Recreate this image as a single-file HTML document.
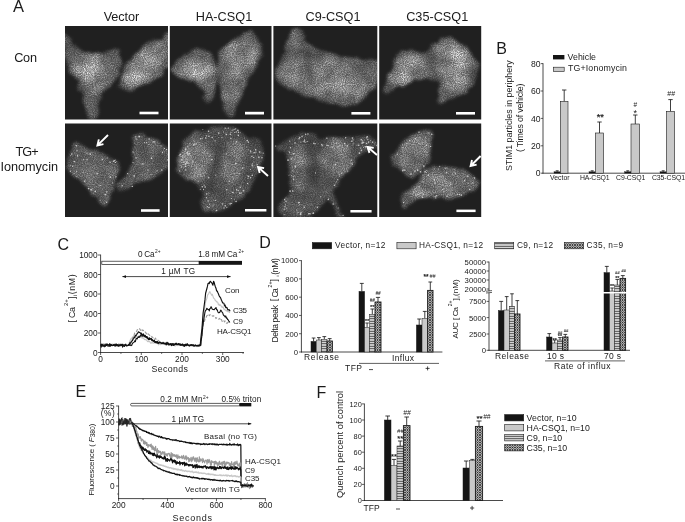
<!DOCTYPE html>
<html><head><meta charset="utf-8"><title>Figure</title>
<style>html,body{margin:0;padding:0;background:#fff}svg{display:block}text{font-family:"Liberation Sans", Arial, sans-serif}</style>
</head><body>
<svg width="685" height="522" viewBox="0 0 685 522">
<defs>
<filter id="cellf" x="0" y="0" width="100%" height="100%" color-interpolation-filters="sRGB">
  <feTurbulence type="fractalNoise" baseFrequency="0.11" numOctaves="3" seed="11" result="dn"/>
  <feDisplacementMap in="SourceGraphic" in2="dn" scale="6.5" xChannelSelector="R" yChannelSelector="G" result="disp"/>
  <feGaussianBlur in="disp" stdDeviation="1.4" result="b0"/>
  <feTurbulence type="fractalNoise" baseFrequency="0.06" numOctaves="2" seed="23" result="lf"/>
  <feColorMatrix in="lf" type="matrix" values="1.4 0 0 0 -0.2  1.4 0 0 0 -0.2  1.4 0 0 0 -0.2  0 0 0 0 1" result="lf2"/>
  <feComposite in="b0" in2="lf2" operator="arithmetic" k1="0.7" k2="0.65" k3="0" k4="0" result="b"/>
  <feTurbulence type="fractalNoise" baseFrequency="0.9" numOctaves="2" seed="5" result="n"/>
  <feColorMatrix in="n" type="matrix" values="1.5 0 0 0 -0.25  1.5 0 0 0 -0.25  1.5 0 0 0 -0.25  0 0 0 0 1" result="n1"/>
  <feComponentTransfer in="n1" result="n2"><feFuncR type="gamma" exponent="1.5" amplitude="1.15"/><feFuncG type="gamma" exponent="1.5" amplitude="1.15"/><feFuncB type="gamma" exponent="1.5" amplitude="1.15"/></feComponentTransfer>
  <feComposite in="b" in2="n2" operator="arithmetic" k1="0.8" k2="0.55" k3="0" k4="0.125" result="c"/>
  <feGaussianBlur in="c" stdDeviation="0.4"/>
</filter>
<filter id="soft" x="-20%" y="-20%" width="140%" height="140%"><feGaussianBlur stdDeviation="2.2"/></filter>
<filter id="dotb" x="-5%" y="-5%" width="110%" height="110%"><feGaussianBlur stdDeviation="0.35"/></filter>
<pattern id="hs" width="4" height="2.5" patternUnits="userSpaceOnUse">
  <rect width="4" height="2.5" fill="#f2f2f2"/>
  <rect y="0.7" width="4" height="1.1" fill="#3a3a3a"/>
</pattern>
<pattern id="xh" width="2.5" height="2.5" patternUnits="userSpaceOnUse">
  <rect width="2.5" height="2.5" fill="#e6e6e6"/>
  <path d="M-1,-1L3.5,3.5M3.5,-1L-1,3.5" stroke="#141414" stroke-width="0.74"/>
</pattern>
<marker id="ah" viewBox="0 0 10 10" refX="9" refY="5" markerWidth="5" markerHeight="5" orient="auto-start-reverse"><path d="M0,1.5L10,5L0,8.5Z" fill="#111"/></marker>
</defs>

<rect width="685" height="522" fill="#fff"/>
<clipPath id="cp00"><rect x="65" y="26" width="103" height="93.5"/></clipPath>
<g clip-path="url(#cp00)"><g filter="url(#cellf)">
<rect x="57" y="18" width="119" height="109.5" fill="#000"/>
<path d="M64,32C65.2,30.33 69.33,41 72,44C74.67,47 76.67,48.5 80,50C83.33,51.5 88,52.67 92,53C96,53.33 100,52.5 104,52C108,51.5 113.17,49 116,50C118.83,51 120.33,55 121,58C121.67,61 120.83,64.67 120,68C119.17,71.33 118,75 116,78C114,81 110.33,83.33 108,86C105.67,88.67 103.5,91 102,94C100.5,97 99.83,100.33 99,104C98.17,107.67 98,113.33 97,116C96,118.67 94.33,119.5 93,120C91.67,120.5 90.17,121 89,119C87.83,117 87,111.5 86,108C85,104.5 84.33,102 83,98C81.67,94 79.83,87.67 78,84C76.17,80.33 73.67,79 72,76C70.33,73 69.2,69.67 68,66C66.8,62.33 65.47,59.67 64.8,54C64.13,48.33 62.8,33.67 64,32Z" fill="#3d3d3d"/>
<path d="M170,36C168,32 161.67,39 158,40C154.33,41 151,40.33 148,42C145,43.67 143,47.33 140,50C137,52.67 132.67,55 130,58C127.33,61 125.5,64.67 124,68C122.5,71.33 121.83,75 121,78C120.17,81 118.17,83.93 119,86C119.83,88.07 123.17,89.9 126,90.4C128.83,90.9 132.33,90.23 136,89C139.67,87.77 144.33,85 148,83C151.67,81 155.17,79 158,77C160.83,75 163,73.17 165,71C167,68.83 169.17,69.83 170,64C170.83,58.17 172,40 170,36Z" fill="#494949"/>
<clipPath id="cc00"><path d="M64,32C65.2,30.33 69.33,41 72,44C74.67,47 76.67,48.5 80,50C83.33,51.5 88,52.67 92,53C96,53.33 100,52.5 104,52C108,51.5 113.17,49 116,50C118.83,51 120.33,55 121,58C121.67,61 120.83,64.67 120,68C119.17,71.33 118,75 116,78C114,81 110.33,83.33 108,86C105.67,88.67 103.5,91 102,94C100.5,97 99.83,100.33 99,104C98.17,107.67 98,113.33 97,116C96,118.67 94.33,119.5 93,120C91.67,120.5 90.17,121 89,119C87.83,117 87,111.5 86,108C85,104.5 84.33,102 83,98C81.67,94 79.83,87.67 78,84C76.17,80.33 73.67,79 72,76C70.33,73 69.2,69.67 68,66C66.8,62.33 65.47,59.67 64.8,54C64.13,48.33 62.8,33.67 64,32Z"/><path d="M170,36C168,32 161.67,39 158,40C154.33,41 151,40.33 148,42C145,43.67 143,47.33 140,50C137,52.67 132.67,55 130,58C127.33,61 125.5,64.67 124,68C122.5,71.33 121.83,75 121,78C120.17,81 118.17,83.93 119,86C119.83,88.07 123.17,89.9 126,90.4C128.83,90.9 132.33,90.23 136,89C139.67,87.77 144.33,85 148,83C151.67,81 155.17,79 158,77C160.83,75 163,73.17 165,71C167,68.83 169.17,69.83 170,64C170.83,58.17 172,40 170,36Z"/></clipPath>
<g clip-path="url(#cc00)"><g filter="url(#soft)">
<ellipse cx="93" cy="69" rx="23" ry="16" transform="rotate(15 93 69)" fill="#6b6b6b"/>
<ellipse cx="90" cy="68" rx="14" ry="10" transform="rotate(10 90 68)" fill="#7b7b7b"/>
<ellipse cx="96" cy="86" rx="8" ry="9" transform="rotate(0 96 86)" fill="#5c5c5c"/>
<ellipse cx="146" cy="63" rx="19" ry="13" transform="rotate(-38 146 63)" fill="#737373"/>
<ellipse cx="134" cy="78" rx="11" ry="8" transform="rotate(-25 134 78)" fill="#868686"/>
<ellipse cx="158" cy="52" rx="9" ry="9" transform="rotate(0 158 52)" fill="#6b6b6b"/>
</g></g>
</g>
</g>
<rect x="139.5" y="111.7" width="19" height="2.6" fill="#fff"/>
<clipPath id="cp01"><rect x="169.8" y="26" width="101.7" height="93.5"/></clipPath>
<g clip-path="url(#cp01)"><g filter="url(#cellf)">
<rect x="161.8" y="18" width="117.7" height="109.5" fill="#000"/>
<path d="M172,69C172.33,66.33 176.17,62.83 179,60C181.83,57.17 185.33,53.67 189,52C192.67,50.33 197.17,49.5 201,50C204.83,50.5 209.33,52.33 212,55C214.67,57.67 216,62.17 217,66C218,69.83 218.33,74.33 218,78C217.67,81.67 216,84.67 215,88C214,91.33 213,95.5 212,98C211,100.5 210.17,102.67 209,103C207.83,103.33 205.83,101.83 205,100C204.17,98.17 205.17,94.67 204,92C202.83,89.33 200.83,86 198,84C195.17,82 190.5,81.33 187,80C183.5,78.67 179.5,77.83 177,76C174.5,74.17 171.67,71.67 172,69Z" fill="#444444"/>
<path d="M219,53C221.17,48.33 227,45.17 231,42C235,38.83 239.33,35.83 243,34C246.67,32.17 250.67,30 253,31C255.33,32 255.33,36.83 257,40C258.67,43.17 262.67,46.33 263,50C263.33,53.67 261,57.67 259,62C257,66.33 253.67,71.33 251,76C248.33,80.67 245.33,85.33 243,90C240.67,94.67 238.83,99.33 237,104C235.17,108.67 233.67,116.33 232,118C230.33,119.67 228.5,117 227,114C225.5,111 224.17,104.67 223,100C221.83,95.33 220.83,91 220,86C219.17,81 218.17,75.5 218,70C217.83,64.5 216.83,57.67 219,53Z" fill="#464646"/>
<clipPath id="cc01"><path d="M172,69C172.33,66.33 176.17,62.83 179,60C181.83,57.17 185.33,53.67 189,52C192.67,50.33 197.17,49.5 201,50C204.83,50.5 209.33,52.33 212,55C214.67,57.67 216,62.17 217,66C218,69.83 218.33,74.33 218,78C217.67,81.67 216,84.67 215,88C214,91.33 213,95.5 212,98C211,100.5 210.17,102.67 209,103C207.83,103.33 205.83,101.83 205,100C204.17,98.17 205.17,94.67 204,92C202.83,89.33 200.83,86 198,84C195.17,82 190.5,81.33 187,80C183.5,78.67 179.5,77.83 177,76C174.5,74.17 171.67,71.67 172,69Z"/><path d="M219,53C221.17,48.33 227,45.17 231,42C235,38.83 239.33,35.83 243,34C246.67,32.17 250.67,30 253,31C255.33,32 255.33,36.83 257,40C258.67,43.17 262.67,46.33 263,50C263.33,53.67 261,57.67 259,62C257,66.33 253.67,71.33 251,76C248.33,80.67 245.33,85.33 243,90C240.67,94.67 238.83,99.33 237,104C235.17,108.67 233.67,116.33 232,118C230.33,119.67 228.5,117 227,114C225.5,111 224.17,104.67 223,100C221.83,95.33 220.83,91 220,86C219.17,81 218.17,75.5 218,70C217.83,64.5 216.83,57.67 219,53Z"/></clipPath>
<g clip-path="url(#cc01)"><g filter="url(#soft)">
<ellipse cx="197" cy="68" rx="17" ry="13" transform="rotate(10 197 68)" fill="#6f6f6f"/>
<ellipse cx="200" cy="72" rx="10" ry="10" transform="rotate(0 200 72)" fill="#7d7d7d"/>
<ellipse cx="209" cy="88" rx="4.4" ry="9" transform="rotate(10 209 88)" fill="#5e5e5e"/>
<ellipse cx="240" cy="60" rx="16" ry="21" transform="rotate(25 240 60)" fill="#6b6b6b"/>
<ellipse cx="235" cy="50" rx="9" ry="8" transform="rotate(0 235 50)" fill="#757575"/>
<ellipse cx="231" cy="96" rx="5.6" ry="14" transform="rotate(8 231 96)" fill="#5c5c5c"/>
</g></g>
</g>
</g>
<rect x="245" y="111.8" width="19" height="2.7" fill="#fff"/>
<clipPath id="cp02"><rect x="273.4" y="26" width="103.9" height="93.5"/></clipPath>
<g clip-path="url(#cp02)"><g filter="url(#cellf)">
<rect x="265.4" y="18" width="119.9" height="109.5" fill="#000"/>
<path d="M294,28C295.83,27.33 299.17,28 301,30C302.83,32 302.5,37 305,40C307.5,43 311.17,45.67 316,48C320.83,50.33 328,52.33 334,54C340,55.67 346,57 352,58C358,59 365.67,59.17 370,60C374.33,60.83 376.67,59.67 378,63C379.33,66.33 379,75.5 378,80C377,84.5 374.67,86.67 372,90C369.33,93.33 366,97.33 362,100C358,102.67 352.67,105.33 348,106C343.33,106.67 339,105 334,104C329,103 323.33,101.67 318,100C312.67,98.33 307,96 302,94C297,92 292,90.33 288,88C284,85.67 280.17,82.67 278,80C275.83,77.33 274.67,75.33 275,72C275.33,68.67 278.17,64.33 280,60C281.83,55.67 284.33,50.33 286,46C287.67,41.67 288.67,37 290,34C291.33,31 292.17,28.67 294,28Z" fill="#414141"/>
<clipPath id="cc02"><path d="M294,28C295.83,27.33 299.17,28 301,30C302.83,32 302.5,37 305,40C307.5,43 311.17,45.67 316,48C320.83,50.33 328,52.33 334,54C340,55.67 346,57 352,58C358,59 365.67,59.17 370,60C374.33,60.83 376.67,59.67 378,63C379.33,66.33 379,75.5 378,80C377,84.5 374.67,86.67 372,90C369.33,93.33 366,97.33 362,100C358,102.67 352.67,105.33 348,106C343.33,106.67 339,105 334,104C329,103 323.33,101.67 318,100C312.67,98.33 307,96 302,94C297,92 292,90.33 288,88C284,85.67 280.17,82.67 278,80C275.83,77.33 274.67,75.33 275,72C275.33,68.67 278.17,64.33 280,60C281.83,55.67 284.33,50.33 286,46C287.67,41.67 288.67,37 290,34C291.33,31 292.17,28.67 294,28Z"/></clipPath>
<g clip-path="url(#cc02)"><g filter="url(#soft)">
<ellipse cx="326" cy="78" rx="43" ry="19" transform="rotate(12 326 78)" fill="#606060"/>
<ellipse cx="342" cy="82" rx="22" ry="14" transform="rotate(10 342 82)" fill="#737373"/>
<ellipse cx="292" cy="70" rx="11" ry="14" transform="rotate(0 292 70)" fill="#5e5e5e"/>
<ellipse cx="296" cy="42" rx="5" ry="11" transform="rotate(-10 296 42)" fill="#444444"/>
<ellipse cx="306.6" cy="60" rx="2.6" ry="21" transform="rotate(-8 306.6 60)" fill="#303030"/>
</g></g>
</g>
</g>
<rect x="351.4" y="112" width="19" height="2.6" fill="#fff"/>
<clipPath id="cp03"><rect x="379.2" y="26" width="102" height="93.5"/></clipPath>
<g clip-path="url(#cp03)"><g filter="url(#cellf)">
<rect x="371.2" y="18" width="118" height="109.5" fill="#000"/>
<path d="M383,89C383.33,86.4 386.17,82.17 388,78C389.83,73.83 392.33,68.17 394,64C395.67,59.83 396,55.33 398,53C400,50.67 402.67,50.17 406,50C409.33,49.83 414.33,52 418,52C421.67,52 425,51.67 428,50C431,48.33 433.33,44 436,42C438.67,40 441,38.33 444,38C447,37.67 450.67,38.67 454,40C457.33,41.33 460.83,43.33 464,46C467.17,48.67 470.67,52.67 473,56C475.33,59.33 477.5,62.33 478,66C478.5,69.67 477.33,74.33 476,78C474.67,81.67 472.67,85 470,88C467.33,91 463.67,94 460,96C456.33,98 451.67,99 448,100C444.33,101 439.5,103.33 438,102C436.5,100.67 438.67,95 439,92C439.33,89 440.83,86.07 440,84C439.17,81.93 436.67,80.43 434,79.6C431.33,78.77 427.33,78.7 424,79C420.67,79.3 417.33,80.43 414,81.4C410.67,82.37 407.33,83.5 404,84.8C400.67,86.1 397,87.73 394,89.2C391,90.67 387.83,93.63 386,93.6C384.17,93.57 382.67,91.6 383,89Z" fill="#414141"/>
<clipPath id="cc03"><path d="M383,89C383.33,86.4 386.17,82.17 388,78C389.83,73.83 392.33,68.17 394,64C395.67,59.83 396,55.33 398,53C400,50.67 402.67,50.17 406,50C409.33,49.83 414.33,52 418,52C421.67,52 425,51.67 428,50C431,48.33 433.33,44 436,42C438.67,40 441,38.33 444,38C447,37.67 450.67,38.67 454,40C457.33,41.33 460.83,43.33 464,46C467.17,48.67 470.67,52.67 473,56C475.33,59.33 477.5,62.33 478,66C478.5,69.67 477.33,74.33 476,78C474.67,81.67 472.67,85 470,88C467.33,91 463.67,94 460,96C456.33,98 451.67,99 448,100C444.33,101 439.5,103.33 438,102C436.5,100.67 438.67,95 439,92C439.33,89 440.83,86.07 440,84C439.17,81.93 436.67,80.43 434,79.6C431.33,78.77 427.33,78.7 424,79C420.67,79.3 417.33,80.43 414,81.4C410.67,82.37 407.33,83.5 404,84.8C400.67,86.1 397,87.73 394,89.2C391,90.67 387.83,93.63 386,93.6C384.17,93.57 382.67,91.6 383,89Z"/></clipPath>
<g clip-path="url(#cc03)"><g filter="url(#soft)">
<ellipse cx="408" cy="72" rx="22" ry="16" transform="rotate(-25 408 72)" fill="#696969"/>
<ellipse cx="400" cy="80" rx="12" ry="11" transform="rotate(-20 400 80)" fill="#737373"/>
<ellipse cx="454" cy="66" rx="17" ry="25" transform="rotate(-5 454 66)" fill="#686868"/>
<ellipse cx="458" cy="68" rx="7" ry="19" transform="rotate(-12 458 68)" fill="#8c8c8c"/>
<ellipse cx="444" cy="50" rx="9" ry="8" transform="rotate(0 444 50)" fill="#6f6f6f"/>
</g></g>
</g>
</g>
<rect x="456" y="112" width="19" height="2.6" fill="#fff"/>
<clipPath id="cp10"><rect x="65" y="123.6" width="103" height="93.4"/></clipPath>
<g clip-path="url(#cp10)"><g filter="url(#cellf)">
<rect x="57" y="115.6" width="119" height="109.4" fill="#000"/>
<path d="M74,142C76.33,140.67 80.33,144.5 84,146C87.67,147.5 92,149.17 96,151C100,152.83 104.33,155.33 108,157C111.67,158.67 116,159.33 118,161C120,162.67 120.33,164.17 120,167C119.67,169.83 117.17,174.17 116,178C114.83,181.83 114.33,186 113,190C111.67,194 109.5,199.5 108,202C106.5,204.5 106,205.67 104,205C102,204.33 98.67,200.5 96,198C93.33,195.5 90.67,193 88,190C85.33,187 83,183 80,180C77,177 72.17,174.67 70,172C67.83,169.33 67,167 67,164C67,161 68.83,157.67 70,154C71.17,150.33 71.67,143.33 74,142Z" fill="#434343"/>
<path d="M136,134C138.17,132.67 142.33,134.67 146,136C149.67,137.33 154.33,139.67 158,142C161.67,144.33 166.07,146 168,150C169.93,154 170.6,162.33 169.6,166C168.6,169.67 164.93,170 162,172C159.07,174 155.67,176.33 152,178C148.33,179.67 143.67,180.33 140,182C136.33,183.67 133.33,186.5 130,188C126.67,189.5 122.17,191.33 120,191C117.83,190.67 116.67,188.17 117,186C117.33,183.83 119.83,180.67 122,178C124.17,175.33 128.33,173.33 130,170C131.67,166.67 131.5,162.33 132,158C132.5,153.67 132.33,148 133,144C133.67,140 133.83,135.33 136,134Z" fill="#414141"/>
<clipPath id="cc10"><path d="M74,142C76.33,140.67 80.33,144.5 84,146C87.67,147.5 92,149.17 96,151C100,152.83 104.33,155.33 108,157C111.67,158.67 116,159.33 118,161C120,162.67 120.33,164.17 120,167C119.67,169.83 117.17,174.17 116,178C114.83,181.83 114.33,186 113,190C111.67,194 109.5,199.5 108,202C106.5,204.5 106,205.67 104,205C102,204.33 98.67,200.5 96,198C93.33,195.5 90.67,193 88,190C85.33,187 83,183 80,180C77,177 72.17,174.67 70,172C67.83,169.33 67,167 67,164C67,161 68.83,157.67 70,154C71.17,150.33 71.67,143.33 74,142Z"/><path d="M136,134C138.17,132.67 142.33,134.67 146,136C149.67,137.33 154.33,139.67 158,142C161.67,144.33 166.07,146 168,150C169.93,154 170.6,162.33 169.6,166C168.6,169.67 164.93,170 162,172C159.07,174 155.67,176.33 152,178C148.33,179.67 143.67,180.33 140,182C136.33,183.67 133.33,186.5 130,188C126.67,189.5 122.17,191.33 120,191C117.83,190.67 116.67,188.17 117,186C117.33,183.83 119.83,180.67 122,178C124.17,175.33 128.33,173.33 130,170C131.67,166.67 131.5,162.33 132,158C132.5,153.67 132.33,148 133,144C133.67,140 133.83,135.33 136,134Z"/></clipPath>
<g clip-path="url(#cc10)"><g filter="url(#soft)">
<ellipse cx="93" cy="172" rx="17" ry="17" transform="rotate(30 93 172)" fill="#4b4b4b"/>
<ellipse cx="82" cy="158" rx="8" ry="8" transform="rotate(0 82 158)" fill="#4f4f4f"/>
<ellipse cx="150" cy="158" rx="13" ry="16" transform="rotate(20 150 158)" fill="#494949"/>
<ellipse cx="130" cy="182" rx="8" ry="5" transform="rotate(-25 130 182)" fill="#484848"/>
</g></g>
</g>
<g fill="#e8e8e8" opacity="0.8" filter="url(#dotb)"><circle cx="92.39" cy="188.79" r="0.47"/><circle cx="106.6" cy="202.19" r="0.71"/><circle cx="166.6" cy="149.73" r="0.61"/><circle cx="95.27" cy="191.38" r="0.81"/><circle cx="110.1" cy="162.28" r="0.7"/><circle cx="134.08" cy="175.92" r="0.82"/><circle cx="76.64" cy="171.7" r="0.63"/><circle cx="136.7" cy="139.07" r="0.61"/><circle cx="115.94" cy="176.72" r="0.69"/><circle cx="151.52" cy="158.16" r="0.84"/><circle cx="77.54" cy="155.91" r="0.79"/><circle cx="105.27" cy="194.62" r="0.83"/><circle cx="100.13" cy="200.3" r="0.48"/><circle cx="84.61" cy="181.23" r="0.75"/><circle cx="142.84" cy="164.02" r="0.82"/><circle cx="134.27" cy="142.94" r="0.47"/><circle cx="100.11" cy="185.46" r="0.61"/><circle cx="72.73" cy="166.37" r="0.72"/><circle cx="167.25" cy="159.82" r="0.61"/><circle cx="162.5" cy="152.42" r="0.71"/><circle cx="83.68" cy="159.72" r="0.63"/><circle cx="115.48" cy="162.42" r="0.62"/><circle cx="151.07" cy="173.89" r="0.5"/><circle cx="133.04" cy="151.9" r="0.6"/><circle cx="139.45" cy="136.64" r="0.79"/><circle cx="76.77" cy="176.24" r="0.57"/><circle cx="136.16" cy="157.9" r="0.71"/><circle cx="110.36" cy="177.15" r="0.82"/><circle cx="76.45" cy="145.75" r="0.73"/><circle cx="71.75" cy="154.03" r="0.74"/><circle cx="70.76" cy="165.19" r="0.54"/><circle cx="115.33" cy="159.97" r="0.52"/><circle cx="127.51" cy="173.56" r="0.63"/><circle cx="112.64" cy="182.77" r="0.62"/><circle cx="122.23" cy="185.82" r="0.72"/><circle cx="74.3" cy="161.59" r="0.79"/><circle cx="87.43" cy="173.8" r="0.51"/><circle cx="91.03" cy="189.67" r="0.85"/><circle cx="164.33" cy="148.44" r="0.59"/><circle cx="148.76" cy="144.42" r="0.53"/><circle cx="146.47" cy="142.71" r="0.59"/><circle cx="160.98" cy="145.96" r="0.52"/><circle cx="87.11" cy="159.49" r="0.64"/><circle cx="74.13" cy="173.24" r="0.54"/><circle cx="70.36" cy="171.28" r="0.67"/><circle cx="107.23" cy="158.02" r="0.58"/><circle cx="133.07" cy="162.61" r="0.58"/><circle cx="161.8" cy="170.01" r="0.78"/><circle cx="138.2" cy="136.81" r="0.51"/><circle cx="90.36" cy="154.01" r="0.84"/><circle cx="88.61" cy="188.58" r="0.82"/><circle cx="104.27" cy="202.99" r="0.49"/><circle cx="77.06" cy="150.71" r="0.64"/><circle cx="124.15" cy="178.09" r="0.46"/><circle cx="157.06" cy="170.81" r="0.65"/><circle cx="97.15" cy="173.76" r="0.81"/><circle cx="149.11" cy="139.08" r="0.75"/><circle cx="113.54" cy="161.27" r="0.75"/><circle cx="68.85" cy="165" r="0.49"/><circle cx="114.34" cy="160.81" r="0.74"/><circle cx="135.9" cy="136.83" r="0.68"/><circle cx="153.95" cy="141.85" r="0.84"/><circle cx="132.27" cy="186.39" r="0.71"/><circle cx="102.36" cy="159.52" r="0.71"/><circle cx="70.36" cy="155.42" r="0.49"/><circle cx="106.76" cy="191.91" r="0.73"/><circle cx="144.42" cy="142.36" r="0.6"/><circle cx="116.84" cy="161.47" r="0.49"/><circle cx="147.97" cy="169.99" r="0.73"/><circle cx="87.02" cy="153.26" r="0.6"/></g>
</g>
<rect x="141" y="209.2" width="18.6" height="2.6" fill="#fff"/>
<path d="M108,135L97.4,145.4M98.85,139.37L97.4,145.4L103.45,144.06" stroke="#fff" stroke-width="1.9" fill="none" stroke-linecap="butt" stroke-linejoin="miter"/>
<clipPath id="cp11"><rect x="169.8" y="123.6" width="101.7" height="93.4"/></clipPath>
<g clip-path="url(#cp11)"><g filter="url(#cellf)">
<rect x="161.8" y="115.6" width="117.7" height="109.4" fill="#000"/>
<path d="M177,160C177.5,156 179,152 181,148C183,144 185.33,139.17 189,136C192.67,132.83 197.67,130.5 203,129C208.33,127.5 215.67,127.17 221,127C226.33,126.83 231,126.5 235,128C239,129.5 241.33,134 245,136C248.67,138 253.83,137.67 257,140C260.17,142.33 263.33,146 264,150C264.67,154 262.5,159.33 261,164C259.5,168.67 257,173.67 255,178C253,182.33 251.33,186.67 249,190C246.67,193.33 244,195.33 241,198C238,200.67 234.67,203.67 231,206C227.33,208.33 222.67,211 219,212C215.33,213 211.83,213.33 209,212C206.17,210.67 203.33,207.33 202,204C200.67,200.67 202.17,195.67 201,192C199.83,188.33 197.67,184.33 195,182C192.33,179.67 187.83,179.67 185,178C182.17,176.33 179.33,175 178,172C176.67,169 176.5,164 177,160Z" fill="#353535"/>
<clipPath id="cc11"><path d="M177,160C177.5,156 179,152 181,148C183,144 185.33,139.17 189,136C192.67,132.83 197.67,130.5 203,129C208.33,127.5 215.67,127.17 221,127C226.33,126.83 231,126.5 235,128C239,129.5 241.33,134 245,136C248.67,138 253.83,137.67 257,140C260.17,142.33 263.33,146 264,150C264.67,154 262.5,159.33 261,164C259.5,168.67 257,173.67 255,178C253,182.33 251.33,186.67 249,190C246.67,193.33 244,195.33 241,198C238,200.67 234.67,203.67 231,206C227.33,208.33 222.67,211 219,212C215.33,213 211.83,213.33 209,212C206.17,210.67 203.33,207.33 202,204C200.67,200.67 202.17,195.67 201,192C199.83,188.33 197.67,184.33 195,182C192.33,179.67 187.83,179.67 185,178C182.17,176.33 179.33,175 178,172C176.67,169 176.5,164 177,160Z"/></clipPath>
<g clip-path="url(#cc11)"><g filter="url(#soft)">
<ellipse cx="195" cy="161" rx="16.4" ry="20" transform="rotate(10 195 161)" fill="#5e5e5e"/>
<ellipse cx="197" cy="158" rx="11" ry="13" transform="rotate(0 197 158)" fill="#686868"/>
<ellipse cx="233.4" cy="162" rx="11.6" ry="21.6" transform="rotate(5 233.4 162)" fill="#5c5c5c"/>
<ellipse cx="233.4" cy="162" rx="7" ry="16" transform="rotate(5 233.4 162)" fill="#606060"/>
<ellipse cx="216" cy="161" rx="2.6" ry="17" transform="rotate(5 216 161)" fill="#252525"/>
<ellipse cx="221" cy="198" rx="12" ry="8" transform="rotate(-30 221 198)" fill="#3d3d3d"/>
</g></g>
</g>
<g fill="#e8e8e8" opacity="0.8" filter="url(#dotb)"><circle cx="179.64" cy="170.93" r="0.61"/><circle cx="231.4" cy="198.51" r="0.6"/><circle cx="205.23" cy="186.9" r="0.69"/><circle cx="204.17" cy="185.12" r="0.54"/><circle cx="230.18" cy="203.87" r="0.79"/><circle cx="202.29" cy="138.17" r="0.56"/><circle cx="248.22" cy="141.96" r="0.46"/><circle cx="235.84" cy="163.44" r="0.83"/><circle cx="259.73" cy="152.09" r="0.81"/><circle cx="215.66" cy="200.43" r="0.61"/><circle cx="194.2" cy="141.01" r="0.49"/><circle cx="208.54" cy="131.23" r="0.8"/><circle cx="218.76" cy="133.1" r="0.8"/><circle cx="239.13" cy="173.64" r="0.66"/><circle cx="215.18" cy="140.96" r="0.64"/><circle cx="204.89" cy="187.02" r="0.45"/><circle cx="250.83" cy="151.88" r="0.63"/><circle cx="241.2" cy="192.98" r="0.67"/><circle cx="226.8" cy="189.77" r="0.71"/><circle cx="193.75" cy="144.94" r="0.83"/><circle cx="250.5" cy="151.03" r="0.73"/><circle cx="255.69" cy="149.77" r="0.74"/><circle cx="240.24" cy="187.27" r="0.7"/><circle cx="189.93" cy="143.64" r="0.63"/><circle cx="236.07" cy="201.49" r="0.73"/><circle cx="194.84" cy="144.26" r="0.61"/><circle cx="213.08" cy="205.12" r="0.71"/><circle cx="221.9" cy="137.6" r="0.56"/><circle cx="253.71" cy="157.4" r="0.67"/><circle cx="247.18" cy="140.61" r="0.84"/><circle cx="186.69" cy="162.71" r="0.69"/><circle cx="240.24" cy="132.23" r="0.48"/><circle cx="208.7" cy="177.68" r="0.75"/><circle cx="252.16" cy="165.73" r="0.72"/><circle cx="198.2" cy="181.28" r="0.56"/><circle cx="222.45" cy="204.03" r="0.74"/><circle cx="232.15" cy="130.2" r="0.53"/><circle cx="182.75" cy="155.57" r="0.61"/><circle cx="202.86" cy="129.61" r="0.49"/><circle cx="234.64" cy="132.45" r="0.5"/><circle cx="181.43" cy="167.08" r="0.67"/><circle cx="188.08" cy="162.97" r="0.81"/><circle cx="252.31" cy="163.93" r="0.64"/><circle cx="213.8" cy="200.82" r="0.45"/><circle cx="238.55" cy="132.26" r="0.66"/><circle cx="254.03" cy="152.54" r="0.6"/><circle cx="257.17" cy="164.57" r="0.52"/><circle cx="250.57" cy="177.79" r="0.71"/><circle cx="233.26" cy="192.58" r="0.53"/><circle cx="208.13" cy="200.92" r="0.73"/><circle cx="218.69" cy="137.62" r="0.48"/><circle cx="187.65" cy="146.46" r="0.52"/><circle cx="188.32" cy="154.49" r="0.53"/><circle cx="258.89" cy="157.23" r="0.81"/><circle cx="226.45" cy="134.49" r="0.79"/><circle cx="237.92" cy="130.42" r="0.81"/><circle cx="182.57" cy="157.53" r="0.48"/><circle cx="179.25" cy="155.18" r="0.54"/><circle cx="185.7" cy="149.15" r="0.82"/><circle cx="185.61" cy="166.56" r="0.79"/><circle cx="206.58" cy="194.03" r="0.76"/><circle cx="203.55" cy="189.59" r="0.62"/><circle cx="187.17" cy="153.15" r="0.67"/><circle cx="230.9" cy="138.51" r="0.69"/><circle cx="187.09" cy="152.82" r="0.84"/><circle cx="185.74" cy="169.95" r="0.71"/><circle cx="216.53" cy="210.56" r="0.75"/><circle cx="242.73" cy="167.97" r="0.83"/><circle cx="226.2" cy="154.06" r="0.71"/><circle cx="212.17" cy="137.42" r="0.71"/><circle cx="189.37" cy="153.69" r="0.83"/><circle cx="209.63" cy="204.16" r="0.55"/><circle cx="208.96" cy="207.59" r="0.73"/><circle cx="180.31" cy="154.41" r="0.81"/><circle cx="200.7" cy="138.74" r="0.79"/><circle cx="225.24" cy="128.14" r="0.66"/><circle cx="196.16" cy="143.99" r="0.68"/><circle cx="248.24" cy="149.86" r="0.5"/><circle cx="223.57" cy="131.92" r="0.51"/><circle cx="181.68" cy="159.48" r="0.58"/><circle cx="244.55" cy="137.97" r="0.47"/><circle cx="250.49" cy="169.5" r="0.58"/><circle cx="263.28" cy="153.09" r="0.57"/><circle cx="252.25" cy="175.28" r="0.78"/><circle cx="200.27" cy="189.28" r="0.54"/><circle cx="208.92" cy="192.97" r="0.52"/><circle cx="236.51" cy="141.9" r="0.78"/><circle cx="207.4" cy="206.63" r="0.61"/><circle cx="254.31" cy="152.62" r="0.52"/><circle cx="251.9" cy="156.39" r="0.67"/><circle cx="185.46" cy="163.95" r="0.85"/><circle cx="255.89" cy="152.2" r="0.61"/><circle cx="182" cy="160.06" r="0.55"/><circle cx="235.67" cy="128.83" r="0.65"/><circle cx="226.74" cy="207.29" r="0.56"/><circle cx="200.54" cy="175.04" r="0.56"/><circle cx="238.19" cy="190.61" r="0.73"/><circle cx="248.01" cy="178.24" r="0.58"/><circle cx="190.72" cy="155.23" r="0.6"/><circle cx="240.23" cy="144.04" r="0.59"/><circle cx="234.07" cy="129.61" r="0.65"/><circle cx="230.48" cy="134.22" r="0.8"/><circle cx="186.14" cy="158.99" r="0.61"/><circle cx="205.74" cy="137.98" r="0.79"/><circle cx="248.61" cy="176.49" r="0.76"/><circle cx="215.69" cy="175.22" r="0.53"/><circle cx="234.26" cy="199.28" r="0.48"/><circle cx="247.83" cy="175.79" r="0.53"/><circle cx="236.54" cy="189.8" r="0.73"/><circle cx="228.28" cy="128.09" r="0.7"/><circle cx="236.27" cy="131.88" r="0.65"/><circle cx="248.5" cy="142.15" r="0.62"/><circle cx="247.62" cy="183.46" r="0.75"/><circle cx="262.01" cy="157.64" r="0.69"/><circle cx="211.84" cy="159.6" r="0.78"/><circle cx="208.89" cy="136.18" r="0.79"/><circle cx="229.23" cy="181.26" r="0.81"/><circle cx="184.35" cy="161.9" r="0.65"/><circle cx="230.98" cy="132.25" r="0.61"/><circle cx="232.38" cy="192.41" r="0.71"/><circle cx="239.7" cy="193.24" r="0.76"/><circle cx="225.2" cy="205.72" r="0.74"/><circle cx="206.43" cy="197.67" r="0.66"/><circle cx="206.65" cy="135.85" r="0.72"/><circle cx="246.53" cy="146.97" r="0.47"/><circle cx="231.5" cy="203.47" r="0.56"/><circle cx="243.47" cy="190.74" r="0.84"/><circle cx="224.05" cy="207.98" r="0.65"/><circle cx="202.28" cy="186.71" r="0.71"/><circle cx="238.33" cy="135.35" r="0.83"/></g>
</g>
<rect x="245" y="209" width="21.4" height="2.5" fill="#fff"/>
<path d="M268,176L258,167M264.11,168.08L258,167L259.71,172.96" stroke="#fff" stroke-width="1.9" fill="none" stroke-linecap="butt" stroke-linejoin="miter"/>
<clipPath id="cp12"><rect x="273.4" y="123.6" width="103.9" height="93.4"/></clipPath>
<g clip-path="url(#cp12)"><g filter="url(#cellf)">
<rect x="265.4" y="115.6" width="119.9" height="109.4" fill="#000"/>
<path d="M275,145C276.33,144 280.83,143.5 284,142C287.17,140.5 289.67,137.5 294,136C298.33,134.5 306,132.83 310,133C314,133.17 314,136.17 318,137C322,137.83 328.67,138 334,138C339.33,138 344.67,137.33 350,137C355.33,136.67 361.33,135.17 366,136C370.67,136.83 376,140 378,142C380,144 380,146.5 378,148C376,149.5 369.33,149.5 366,151C362.67,152.5 360,154.5 358,157C356,159.5 356.67,162.83 354,166C351.33,169.17 345,172.67 342,176C339,179.33 337.67,183.33 336,186C334.33,188.67 331.83,189.33 332,192C332.17,194.67 335.33,198.67 337,202C338.67,205.33 340.77,209.5 342,212C343.23,214.5 345,216.17 344.4,217C343.8,217.83 340.47,219.17 338.4,217C336.33,214.83 334.07,206.83 332,204C329.93,201.17 328.33,199 326,200C323.67,201 321,207 318,210C315,213 313,216.67 308,218C303,219.33 292.67,219 288,218C283.33,217 281,214.67 280,212C279,209.33 280.33,205 282,202C283.67,199 288.83,198 290,194C291.17,190 289.33,183.33 289,178C288.67,172.67 288.83,166.33 288,162C287.17,157.67 286,154.33 284,152C282,149.67 277.5,149.17 276,148C274.5,146.83 273.67,146 275,145Z" fill="#353535"/>
<clipPath id="cc12"><path d="M275,145C276.33,144 280.83,143.5 284,142C287.17,140.5 289.67,137.5 294,136C298.33,134.5 306,132.83 310,133C314,133.17 314,136.17 318,137C322,137.83 328.67,138 334,138C339.33,138 344.67,137.33 350,137C355.33,136.67 361.33,135.17 366,136C370.67,136.83 376,140 378,142C380,144 380,146.5 378,148C376,149.5 369.33,149.5 366,151C362.67,152.5 360,154.5 358,157C356,159.5 356.67,162.83 354,166C351.33,169.17 345,172.67 342,176C339,179.33 337.67,183.33 336,186C334.33,188.67 331.83,189.33 332,192C332.17,194.67 335.33,198.67 337,202C338.67,205.33 340.77,209.5 342,212C343.23,214.5 345,216.17 344.4,217C343.8,217.83 340.47,219.17 338.4,217C336.33,214.83 334.07,206.83 332,204C329.93,201.17 328.33,199 326,200C323.67,201 321,207 318,210C315,213 313,216.67 308,218C303,219.33 292.67,219 288,218C283.33,217 281,214.67 280,212C279,209.33 280.33,205 282,202C283.67,199 288.83,198 290,194C291.17,190 289.33,183.33 289,178C288.67,172.67 288.83,166.33 288,162C287.17,157.67 286,154.33 284,152C282,149.67 277.5,149.17 276,148C274.5,146.83 273.67,146 275,145Z"/></clipPath>
<g clip-path="url(#cc12)"><g filter="url(#soft)">
<ellipse cx="299" cy="168" rx="9.6" ry="24" transform="rotate(0 299 168)" fill="#545454"/>
<ellipse cx="299" cy="164" rx="7" ry="16" transform="rotate(0 299 164)" fill="#595959"/>
<ellipse cx="338" cy="159" rx="17" ry="18" transform="rotate(-20 338 159)" fill="#575757"/>
<ellipse cx="335" cy="158" rx="10" ry="11" transform="rotate(0 335 158)" fill="#626262"/>
<ellipse cx="314.6" cy="164" rx="3.2" ry="27" transform="rotate(-5 314.6 164)" fill="#272727"/>
<ellipse cx="304" cy="206" rx="19" ry="8" transform="rotate(0 304 206)" fill="#3d3d3d"/>
</g></g>
</g>
<g fill="#e8e8e8" opacity="0.8" filter="url(#dotb)"><circle cx="307.23" cy="141.51" r="0.58"/><circle cx="289.12" cy="151.17" r="0.47"/><circle cx="288.04" cy="160.12" r="0.84"/><circle cx="293.73" cy="153.83" r="0.81"/><circle cx="365.32" cy="146.84" r="0.81"/><circle cx="352.5" cy="138.11" r="0.8"/><circle cx="299.57" cy="204.76" r="0.5"/><circle cx="350.96" cy="163.13" r="0.56"/><circle cx="320.73" cy="196.81" r="0.66"/><circle cx="328.17" cy="145.63" r="0.61"/><circle cx="289.64" cy="152.59" r="0.65"/><circle cx="367.59" cy="148.79" r="0.79"/><circle cx="304.3" cy="207.32" r="0.73"/><circle cx="315.56" cy="172.99" r="0.62"/><circle cx="293.74" cy="179.19" r="0.72"/><circle cx="344.46" cy="143.57" r="0.73"/><circle cx="312.96" cy="213.17" r="0.61"/><circle cx="289" cy="175.15" r="0.48"/><circle cx="313.73" cy="143.3" r="0.73"/><circle cx="291.25" cy="159" r="0.8"/><circle cx="333.22" cy="138.06" r="0.5"/><circle cx="313.44" cy="213.14" r="0.77"/><circle cx="353.09" cy="143.88" r="0.53"/><circle cx="284.99" cy="206.74" r="0.64"/><circle cx="286.59" cy="207.97" r="0.55"/><circle cx="370.55" cy="140.69" r="0.54"/><circle cx="299.07" cy="138.71" r="0.78"/><circle cx="317.58" cy="157.36" r="0.48"/><circle cx="345.69" cy="137.65" r="0.77"/><circle cx="305.04" cy="142.54" r="0.55"/><circle cx="358.63" cy="145.23" r="0.72"/><circle cx="334.54" cy="185.25" r="0.76"/><circle cx="323.85" cy="149.12" r="0.49"/><circle cx="326.99" cy="145.21" r="0.78"/><circle cx="351.4" cy="160.16" r="0.69"/><circle cx="366.62" cy="143.45" r="0.73"/><circle cx="293.35" cy="176.65" r="0.51"/><circle cx="275.6" cy="146.06" r="0.56"/><circle cx="298.45" cy="144.89" r="0.47"/><circle cx="326.87" cy="138.2" r="0.67"/><circle cx="363.64" cy="147.14" r="0.51"/><circle cx="304.69" cy="141.02" r="0.75"/><circle cx="359.43" cy="153.15" r="0.79"/><circle cx="283.96" cy="209.75" r="0.55"/><circle cx="362.63" cy="142.69" r="0.59"/><circle cx="296.79" cy="210.08" r="0.51"/><circle cx="303.95" cy="141.28" r="0.7"/><circle cx="292.66" cy="170.78" r="0.52"/><circle cx="339.22" cy="174.54" r="0.57"/><circle cx="328.75" cy="198.36" r="0.47"/><circle cx="304.65" cy="139.87" r="0.56"/><circle cx="299.73" cy="137.6" r="0.75"/><circle cx="341.74" cy="173.43" r="0.62"/><circle cx="290.05" cy="191.14" r="0.81"/><circle cx="305.59" cy="134.21" r="0.7"/><circle cx="353.02" cy="139.78" r="0.6"/><circle cx="289.77" cy="141.17" r="0.57"/><circle cx="368.6" cy="142.08" r="0.81"/><circle cx="362.06" cy="143.09" r="0.77"/><circle cx="372.59" cy="142.28" r="0.74"/><circle cx="318.09" cy="143.63" r="0.46"/><circle cx="309.93" cy="213.82" r="0.79"/><circle cx="302.05" cy="136.45" r="0.73"/><circle cx="285.99" cy="201.21" r="0.75"/><circle cx="360.49" cy="147.94" r="0.56"/><circle cx="295.36" cy="166.63" r="0.83"/><circle cx="333.19" cy="203.94" r="0.8"/><circle cx="292.77" cy="191.01" r="0.83"/><circle cx="284.2" cy="214.69" r="0.53"/><circle cx="347.03" cy="147.77" r="0.46"/><circle cx="343.07" cy="215.35" r="0.7"/><circle cx="297.77" cy="172.35" r="0.51"/><circle cx="351.84" cy="141.23" r="0.76"/><circle cx="300.69" cy="214.45" r="0.84"/><circle cx="300.54" cy="213.24" r="0.71"/><circle cx="336.36" cy="181.73" r="0.52"/><circle cx="317.51" cy="207.26" r="0.68"/><circle cx="300.8" cy="141.97" r="0.59"/><circle cx="322.25" cy="145.93" r="0.46"/><circle cx="297.95" cy="212.33" r="0.53"/><circle cx="347.72" cy="171.11" r="0.53"/><circle cx="322.16" cy="145.46" r="0.62"/><circle cx="366.36" cy="137.76" r="0.56"/><circle cx="284.89" cy="209.12" r="0.74"/><circle cx="351.96" cy="163.89" r="0.5"/><circle cx="311.83" cy="204.08" r="0.53"/><circle cx="294.6" cy="175.85" r="0.49"/><circle cx="363.7" cy="142.45" r="0.64"/><circle cx="367.67" cy="148.26" r="0.6"/><circle cx="294.97" cy="142.89" r="0.75"/><circle cx="299.33" cy="202.38" r="0.64"/><circle cx="367.31" cy="136.87" r="0.83"/><circle cx="285.43" cy="204.84" r="0.53"/><circle cx="315.09" cy="143.78" r="0.75"/><circle cx="374.87" cy="144.04" r="0.46"/><circle cx="307.96" cy="133.97" r="0.68"/><circle cx="332.28" cy="147.31" r="0.61"/><circle cx="377.01" cy="145.44" r="0.68"/><circle cx="361.36" cy="150.21" r="0.77"/><circle cx="321.76" cy="144.52" r="0.65"/><circle cx="337.77" cy="179.65" r="0.62"/><circle cx="366.23" cy="146.87" r="0.74"/><circle cx="352.5" cy="164.14" r="0.52"/><circle cx="367.83" cy="139.37" r="0.64"/><circle cx="290.53" cy="147.69" r="0.7"/><circle cx="291.72" cy="175.42" r="0.51"/><circle cx="361.19" cy="139.75" r="0.8"/><circle cx="335.64" cy="164.61" r="0.81"/><circle cx="286" cy="198.04" r="0.58"/><circle cx="339.28" cy="176.43" r="0.49"/><circle cx="301.11" cy="212.34" r="0.69"/><circle cx="338.14" cy="207.98" r="0.58"/><circle cx="347.45" cy="145.74" r="0.67"/><circle cx="328.27" cy="199.45" r="0.78"/><circle cx="298.4" cy="202.71" r="0.7"/><circle cx="284.71" cy="199.44" r="0.7"/><circle cx="308.76" cy="213.75" r="0.74"/><circle cx="362.48" cy="140.89" r="0.66"/><circle cx="356.97" cy="144.95" r="0.54"/><circle cx="375.11" cy="142.23" r="0.45"/></g>
</g>
<rect x="350.4" y="210" width="21.2" height="2.5" fill="#fff"/>
<path d="M377,155L367.6,147M373.73,147.91L367.6,147L369.47,152.91" stroke="#fff" stroke-width="1.9" fill="none" stroke-linecap="butt" stroke-linejoin="miter"/>
<clipPath id="cp13"><rect x="379.2" y="123.6" width="102" height="93.4"/></clipPath>
<g clip-path="url(#cp13)"><g filter="url(#cellf)">
<rect x="371.2" y="115.6" width="118" height="109.4" fill="#000"/>
<path d="M390,158C390.33,155.5 393.67,152.67 396,150C398.33,147.33 400.67,144.83 404,142C407.33,139.17 412.33,135 416,133C419.67,131 423.33,130.17 426,130C428.67,129.83 431.17,129.67 432,132C432.83,134.33 431.33,140.33 431,144C430.67,147.67 430.5,150.67 430,154C429.5,157.33 429.33,161 428,164C426.67,167 424.33,170 422,172C419.67,174 417,176 414,176C411,176 407.33,173.83 404,172C400.67,170.17 396.33,167.33 394,165C391.67,162.67 389.67,160.5 390,158Z" fill="#444444"/>
<path d="M402,195C403.83,192.33 409,190.5 412,188C415,185.5 417.67,183 420,180C422.33,177 423,172.33 426,170C429,167.67 433.67,166.5 438,166C442.33,165.5 447.67,166.33 452,167C456.33,167.67 460.33,168.5 464,170C467.67,171.5 471.5,174 474,176C476.5,178 479,179.67 479,182C479,184.33 476.83,187.67 474,190C471.17,192.33 466.33,194.5 462,196C457.67,197.5 453,198.67 448,199C443,199.33 436.67,198.17 432,198C427.33,197.83 423.33,197.33 420,198C416.67,198.67 414.33,200.33 412,202C409.67,203.67 407.83,207.67 406,208C404.17,208.33 401.67,206.17 401,204C400.33,201.83 400.17,197.67 402,195Z" fill="#434343"/>
<clipPath id="cc13"><path d="M390,158C390.33,155.5 393.67,152.67 396,150C398.33,147.33 400.67,144.83 404,142C407.33,139.17 412.33,135 416,133C419.67,131 423.33,130.17 426,130C428.67,129.83 431.17,129.67 432,132C432.83,134.33 431.33,140.33 431,144C430.67,147.67 430.5,150.67 430,154C429.5,157.33 429.33,161 428,164C426.67,167 424.33,170 422,172C419.67,174 417,176 414,176C411,176 407.33,173.83 404,172C400.67,170.17 396.33,167.33 394,165C391.67,162.67 389.67,160.5 390,158Z"/><path d="M402,195C403.83,192.33 409,190.5 412,188C415,185.5 417.67,183 420,180C422.33,177 423,172.33 426,170C429,167.67 433.67,166.5 438,166C442.33,165.5 447.67,166.33 452,167C456.33,167.67 460.33,168.5 464,170C467.67,171.5 471.5,174 474,176C476.5,178 479,179.67 479,182C479,184.33 476.83,187.67 474,190C471.17,192.33 466.33,194.5 462,196C457.67,197.5 453,198.67 448,199C443,199.33 436.67,198.17 432,198C427.33,197.83 423.33,197.33 420,198C416.67,198.67 414.33,200.33 412,202C409.67,203.67 407.83,207.67 406,208C404.17,208.33 401.67,206.17 401,204C400.33,201.83 400.17,197.67 402,195Z"/></clipPath>
<g clip-path="url(#cc13)"><g filter="url(#soft)">
<ellipse cx="414" cy="154" rx="13" ry="17" transform="rotate(30 414 154)" fill="#626262"/>
<ellipse cx="442" cy="183" rx="26" ry="11" transform="rotate(-8 442 183)" fill="#606060"/>
<ellipse cx="424" cy="192" rx="14" ry="6" transform="rotate(-15 424 192)" fill="#747474"/>
<ellipse cx="454" cy="178" rx="12" ry="7" transform="rotate(10 454 178)" fill="#676767"/>
</g></g>
</g>
<g fill="#e8e8e8" opacity="0.8" filter="url(#dotb)"><circle cx="445.35" cy="168.22" r="0.65"/><circle cx="454.15" cy="169.48" r="0.48"/><circle cx="402.59" cy="144.24" r="0.47"/><circle cx="425.21" cy="137.22" r="0.47"/><circle cx="430.53" cy="146.38" r="0.64"/><circle cx="428.33" cy="175.08" r="0.84"/><circle cx="468.13" cy="183.18" r="0.53"/><circle cx="431.72" cy="134.31" r="0.71"/><circle cx="409.67" cy="140.66" r="0.7"/><circle cx="428.91" cy="132.99" r="0.73"/><circle cx="426.16" cy="172.45" r="0.56"/><circle cx="422.89" cy="195.89" r="0.47"/><circle cx="474.6" cy="177.97" r="0.79"/><circle cx="410.92" cy="173.94" r="0.69"/><circle cx="417.68" cy="170.07" r="0.84"/><circle cx="455.57" cy="173.2" r="0.66"/><circle cx="422.66" cy="197.39" r="0.72"/><circle cx="425.1" cy="171.64" r="0.8"/><circle cx="434.37" cy="179.69" r="0.73"/><circle cx="434.18" cy="168.94" r="0.48"/><circle cx="442.52" cy="189.6" r="0.63"/><circle cx="426.18" cy="155.11" r="0.55"/><circle cx="435.15" cy="196.61" r="0.66"/><circle cx="457.45" cy="194.23" r="0.69"/><circle cx="418.94" cy="132.14" r="0.72"/><circle cx="464.63" cy="180.57" r="0.83"/><circle cx="426.48" cy="145.24" r="0.76"/><circle cx="415.2" cy="138.75" r="0.71"/><circle cx="423.4" cy="165.98" r="0.48"/><circle cx="406.48" cy="143.46" r="0.46"/><circle cx="467.85" cy="176.21" r="0.76"/><circle cx="423.08" cy="181.65" r="0.58"/><circle cx="461.37" cy="195.1" r="0.81"/><circle cx="450.41" cy="184.51" r="0.53"/><circle cx="423.89" cy="165.98" r="0.84"/><circle cx="439.72" cy="166.36" r="0.63"/><circle cx="415.15" cy="171.01" r="0.74"/><circle cx="472.62" cy="182.92" r="0.61"/><circle cx="403.62" cy="202.5" r="0.72"/><circle cx="420.48" cy="171.74" r="0.84"/><circle cx="436.67" cy="195.82" r="0.75"/><circle cx="397.2" cy="154.4" r="0.6"/><circle cx="435.77" cy="197.95" r="0.58"/><circle cx="450.65" cy="182.25" r="0.61"/><circle cx="426.51" cy="170.58" r="0.46"/><circle cx="446.91" cy="167.88" r="0.56"/><circle cx="438.38" cy="168.94" r="0.55"/><circle cx="404.81" cy="170.22" r="0.67"/><circle cx="419.13" cy="187" r="0.68"/><circle cx="455.68" cy="173.89" r="0.47"/><circle cx="402.7" cy="170.73" r="0.73"/><circle cx="402.99" cy="147.67" r="0.62"/><circle cx="459.52" cy="194.41" r="0.72"/><circle cx="435.27" cy="182.96" r="0.63"/><circle cx="452.83" cy="174.66" r="0.51"/><circle cx="419.84" cy="137.32" r="0.55"/><circle cx="446.97" cy="196.34" r="0.79"/><circle cx="469.72" cy="189.59" r="0.77"/><circle cx="403.04" cy="169.9" r="0.71"/><circle cx="446.57" cy="172.78" r="0.8"/></g>
</g>
<rect x="456.4" y="209.6" width="19.2" height="2.5" fill="#fff"/>
<path d="M480.6,156L470.6,166M471.99,159.96L470.6,166L476.64,164.61" stroke="#fff" stroke-width="1.9" fill="none" stroke-linecap="butt" stroke-linejoin="miter"/>
<text x="13" y="12" font-size="16.5" fill="#1a1a1a" >A</text>
<text x="103.7" y="20.5" font-size="12.7" textLength="35.5" lengthAdjust="spacing" fill="#1a1a1a" >Vector</text>
<text x="195.7" y="20.5" font-size="12.7" textLength="56.5" lengthAdjust="spacing" fill="#1a1a1a" >HA-CSQ1</text>
<text x="305.5" y="20.5" font-size="12.7" textLength="55" lengthAdjust="spacing" fill="#1a1a1a" >C9-CSQ1</text>
<text x="406.2" y="20.5" font-size="12.7" textLength="62" lengthAdjust="spacing" fill="#1a1a1a" >C35-CSQ1</text>
<text x="14.2" y="61.7" font-size="12.7" textLength="22.8" lengthAdjust="spacing" fill="#1a1a1a" >Con</text>
<text x="15.5" y="155.5" font-size="12.7" textLength="23.2" lengthAdjust="spacing" fill="#1a1a1a" >TG+</text>
<text x="0.5" y="170.7" font-size="12.7" textLength="57.5" lengthAdjust="spacing" fill="#1a1a1a" >Ionomycin</text>
<text x="496.2" y="54.4" font-size="16" fill="#1a1a1a" >B</text>
<line x1="543" y1="63.2" x2="543" y2="173.6" stroke="#1c1c1c" stroke-width="0.8" />
<line x1="542.6" y1="173.2" x2="685" y2="173.2" stroke="#1c1c1c" stroke-width="0.8" />
<line x1="540.8" y1="173.2" x2="543" y2="173.2" stroke="#1c1c1c" stroke-width="0.7" />
<text x="540.6" y="176.3" font-size="8.6" text-anchor="end" fill="#1a1a1a" >0</text>
<line x1="540.8" y1="145.8" x2="543" y2="145.8" stroke="#1c1c1c" stroke-width="0.7" />
<text x="540.6" y="148.9" font-size="8.6" text-anchor="end" fill="#1a1a1a" >20</text>
<line x1="540.8" y1="118.4" x2="543" y2="118.4" stroke="#1c1c1c" stroke-width="0.7" />
<text x="540.6" y="121.5" font-size="8.6" text-anchor="end" fill="#1a1a1a" >40</text>
<line x1="540.8" y1="91" x2="543" y2="91" stroke="#1c1c1c" stroke-width="0.7" />
<text x="540.6" y="94.1" font-size="8.6" text-anchor="end" fill="#1a1a1a" >60</text>
<line x1="540.8" y1="63.6" x2="543" y2="63.6" stroke="#1c1c1c" stroke-width="0.7" />
<text x="540.6" y="66.7" font-size="8.6" text-anchor="end" fill="#1a1a1a" >80</text>
<line x1="557.2" y1="170.8" x2="557.2" y2="171.7" stroke="#1c1c1c" stroke-width="0.85" />
<line x1="555.7" y1="170.8" x2="558.7" y2="170.8" stroke="#1c1c1c" stroke-width="0.85" />
<rect x="554" y="171.7" width="6.4" height="1.5" fill="#151515" stroke="#1c1c1c" stroke-width="0.3"/>
<line x1="564.2" y1="90" x2="564.2" y2="101.5" stroke="#1c1c1c" stroke-width="0.85" />
<line x1="562" y1="90" x2="566.4" y2="90" stroke="#1c1c1c" stroke-width="0.85" />
<rect x="560.4" y="101.5" width="7.6" height="71.7" fill="#c9c9c9" stroke="#1c1c1c" stroke-width="0.6"/>
<line x1="592.2" y1="170.8" x2="592.2" y2="171.7" stroke="#1c1c1c" stroke-width="0.85" />
<line x1="590.7" y1="170.8" x2="593.7" y2="170.8" stroke="#1c1c1c" stroke-width="0.85" />
<rect x="589" y="171.7" width="6.4" height="1.5" fill="#151515" stroke="#1c1c1c" stroke-width="0.3"/>
<line x1="599.5" y1="122" x2="599.5" y2="133" stroke="#1c1c1c" stroke-width="0.85" />
<line x1="597.3" y1="122" x2="601.7" y2="122" stroke="#1c1c1c" stroke-width="0.85" />
<rect x="595.4" y="133" width="8.2" height="40.2" fill="#c9c9c9" stroke="#1c1c1c" stroke-width="0.6"/>
<line x1="627.75" y1="170.8" x2="627.75" y2="171.7" stroke="#1c1c1c" stroke-width="0.85" />
<line x1="626.25" y1="170.8" x2="629.25" y2="170.8" stroke="#1c1c1c" stroke-width="0.85" />
<rect x="624.5" y="171.7" width="6.5" height="1.5" fill="#151515" stroke="#1c1c1c" stroke-width="0.3"/>
<line x1="635.3" y1="115" x2="635.3" y2="124" stroke="#1c1c1c" stroke-width="0.85" />
<line x1="633.1" y1="115" x2="637.5" y2="115" stroke="#1c1c1c" stroke-width="0.85" />
<rect x="631" y="124" width="8.6" height="49.2" fill="#c9c9c9" stroke="#1c1c1c" stroke-width="0.6"/>
<line x1="663.2" y1="170.8" x2="663.2" y2="171.7" stroke="#1c1c1c" stroke-width="0.85" />
<line x1="661.7" y1="170.8" x2="664.7" y2="170.8" stroke="#1c1c1c" stroke-width="0.85" />
<rect x="660" y="171.7" width="6.4" height="1.5" fill="#151515" stroke="#1c1c1c" stroke-width="0.3"/>
<line x1="670.5" y1="99.6" x2="670.5" y2="111.4" stroke="#1c1c1c" stroke-width="0.85" />
<line x1="668.3" y1="99.6" x2="672.7" y2="99.6" stroke="#1c1c1c" stroke-width="0.85" />
<rect x="666.4" y="111.4" width="8.2" height="61.8" fill="#c9c9c9" stroke="#1c1c1c" stroke-width="0.6"/>
<rect x="553" y="55" width="11.4" height="4.4" fill="#151515"/>
<rect x="553.3" y="67.2" width="10.9" height="4.3" fill="#c9c9c9" stroke="#1c1c1c" stroke-width="0.6"/>
<text x="567.6" y="59.6" font-size="8.8" textLength="28.4" lengthAdjust="spacing" fill="#1a1a1a" >Vehicle</text>
<text x="568" y="71.4" font-size="8.8" textLength="59" lengthAdjust="spacing" fill="#1a1a1a" >TG+Ionomycin</text>
<text x="600.3" y="119.8" font-size="9.4" text-anchor="middle" fill="#1a1a1a" stroke="#1a1a1a" stroke-width="0.2">**</text>
<text x="635.2" y="107" font-size="6.5" text-anchor="middle" fill="#1a1a1a" >#</text>
<text x="635.2" y="115.6" font-size="9" text-anchor="middle" fill="#1a1a1a" >*</text>
<text x="671.2" y="96" font-size="7" text-anchor="middle" fill="#1a1a1a" >##</text>
<text x="550" y="180.4" font-size="6.9" textLength="19.6" lengthAdjust="spacing" fill="#1a1a1a" >Vector</text>
<text x="580" y="180.4" font-size="6.9" textLength="29.6" lengthAdjust="spacing" fill="#1a1a1a" >HA-CSQ1</text>
<text x="616" y="180.4" font-size="6.9" textLength="29.4" lengthAdjust="spacing" fill="#1a1a1a" >C9-CSQ1</text>
<text x="652" y="180.4" font-size="6.9" textLength="33" lengthAdjust="spacing" fill="#1a1a1a" >C35-CSQ1</text>
<text transform="translate(512.4,115.7) rotate(-90)" text-anchor="middle" font-size="8.9" textLength="110.7" lengthAdjust="spacing" fill="#1a1a1a">STIM1 particles in periphery</text>
<text transform="translate(523.4,117.8) rotate(-90)" text-anchor="middle" font-size="8.9" textLength="68.4" lengthAdjust="spacing" fill="#1a1a1a">( Times of vehicle)</text>
<text x="57.4" y="250" font-size="16" fill="#1a1a1a" >C</text>
<path d="M100.6,344.53L101.21,344.3L101.82,344.54L102.43,345.34L103.04,344.26L103.65,344.48L104.26,344.96L104.87,344.42L105.48,344.52L106.09,344.56L106.7,344.69L107.32,344.43L107.93,345.06L108.54,344.78L109.15,344.94L109.76,344.41L110.37,344.68L110.98,344.84L111.59,345.08L112.2,344.83L112.81,344.7L113.42,344.83L114.03,344.07L114.64,344.21L115.25,346.02L115.86,345.62L116.47,344.79L117.08,344.91L117.69,344.6L118.3,344.59L118.91,343.67L119.53,345.24L120.14,344.88L120.75,343.7L121.36,344.38L121.97,344.38L122.58,344.95L123.19,345.5L123.8,344.62L124.41,344.65L125.02,345.3L125.63,345.03L126.24,344.74L126.85,345.16L127.46,344.75L128.07,344.65L128.68,343.83L129.29,342.81L129.9,341L130.51,339.57L131.12,338.57L131.74,338.15L132.35,337.03L132.96,337.27L133.57,336.23L134.18,336.95L134.79,336.02L135.4,336.52L136.01,337.16L136.62,336.74L137.23,336.6L137.84,336.54L138.45,337.19L139.06,337.29L139.67,336.69L140.28,337.06L140.89,336.76L141.5,336.68L142.11,338.29L142.72,337.8L143.33,337.77L143.95,338.95L144.56,339.64L145.17,339.31L145.78,339.9L146.39,339.88L147,340.77L147.61,341.62L148.22,341.24L148.83,341.7L149.44,341.4L150.05,341.97L150.66,343.16L151.27,343.24L151.88,342.38L152.49,342.56L153.1,343.3L153.71,343.07L154.32,342.94L154.93,343.02L155.54,342.91L156.16,343.3L156.77,343.56L157.38,343.72L157.99,343.17L158.6,344.87L159.21,343.93L159.82,343.93L160.43,344.73L161.04,343.96L161.65,344.53L162.26,343.82L162.87,344.33L163.48,343.97L164.09,343.74L164.7,344.17L165.31,344.81L165.92,345.16L166.53,343.59L167.14,344.53L167.75,344.84L168.37,344.46L168.98,344.66L169.59,344.18L170.2,344.61L170.81,344.64L171.42,345.03L172.03,344.48L172.64,345.24L173.25,344.44L173.86,344.05L174.47,345.57L175.08,346.06L175.69,344.58L176.3,343.67L176.91,345.43L177.52,345.58L178.13,344.72L178.74,345.44L179.35,345.31L179.96,345.26L180.58,344.86L181.19,345.35L181.8,345.04L182.41,345.28L183.02,345.63L183.63,345.39L184.24,345.71L184.85,345.26L185.46,345.83L186.07,345.83L186.68,344.61L187.29,345.36L187.9,345.38L188.51,345.12L189.12,345.59L189.73,345.51L190.34,345.21L190.95,345.3L191.56,346.02L192.17,345.06L192.79,345.78L193.4,346.02L194.01,345.96L194.62,345.73L195.23,344.76L195.84,346.15L196.45,345.51L197.06,346.65L197.67,345.62L198.28,345.2L198.89,345.77L199.5,345.98L200.11,345.56L200.72,345.33L201.33,338.53L201.94,331.06L202.55,325.1L203.16,318.66L203.77,314.29L204.38,310.12L205,305.89L205.61,301.81L206.22,299.77L206.83,298.71L207.44,295.55L208.05,294.28L208.66,293.84L209.27,292.23L209.88,291.69L210.49,292.92L211.1,293.92L211.71,295.29L212.32,294.27L212.93,296.11L213.54,297.97L214.15,298.67L214.76,299.13L215.37,300.8L215.98,300.84L216.59,302.02L217.21,301.79L217.82,302.5L218.43,304.88L219.04,304.12L219.65,305.51L220.26,304.77L220.87,305.81L221.48,306.21L222.09,307.58L222.7,306.76L223.31,307.25L223.92,309.34L224.53,309.22L225.14,310.15L225.75,310.17L226.36,311.12L226.97,309.93L227.58,311.65L228.19,311.66L228.8,311.61L229.42,312.5L230.03,312.64" fill="none" stroke="#c4c4c4" stroke-width="1.1" stroke-linejoin="round"/>
<path d="M100.6,344.41L101.21,344.76L101.82,344.71L102.43,345.71L103.04,343.64L103.65,343.97L104.26,344.69L104.87,344.16L105.48,344.4L106.09,344.81L106.7,344.07L107.32,344.7L107.93,344.71L108.54,344.94L109.15,344.34L109.76,344.61L110.37,344.3L110.98,344.87L111.59,344.52L112.2,345.02L112.81,344.18L113.42,344.5L114.03,344.43L114.64,344.4L115.25,345.1L115.86,344.22L116.47,343.61L117.08,345.41L117.69,345.46L118.3,345.36L118.91,344.22L119.53,344.57L120.14,344.11L120.75,344.29L121.36,344.54L121.97,344.51L122.58,344.73L123.19,344.23L123.8,345.21L124.41,344.87L125.02,344.55L125.63,343.79L126.24,345.05L126.85,345.21L127.46,344.96L128.07,344.22L128.68,344.81L129.29,344.05L129.9,345.61L130.51,342.8L131.12,341.5L131.74,341.34L132.35,339.23L132.96,337.36L133.57,336.56L134.18,334.76L134.79,332.74L135.4,332.58L136.01,331.99L136.62,331.37L137.23,329.82L137.84,329.37L138.45,328.5L139.06,328.8L139.67,328.76L140.28,329.92L140.89,330.48L141.5,331.25L142.11,329.81L142.72,330.68L143.33,330.31L143.95,331.44L144.56,332.19L145.17,331.99L145.78,332.65L146.39,333.61L147,333.82L147.61,332.92L148.22,334L148.83,334.36L149.44,335.08L150.05,335.7L150.66,335.34L151.27,336.24L151.88,336.97L152.49,337.08L153.1,337.86L153.71,337.74L154.32,337.65L154.93,338.94L155.54,338.18L156.16,339.54L156.77,339.48L157.38,340.3L157.99,340.34L158.6,340.55L159.21,341.12L159.82,341.59L160.43,341.92L161.04,342.32L161.65,343.03L162.26,342.52L162.87,342.32L163.48,342.19L164.09,342.44L164.7,341.69L165.31,342.85L165.92,343.36L166.53,342.34L167.14,343.89L167.75,343.03L168.37,344.1L168.98,343.58L169.59,344.84L170.2,343.5L170.81,344.05L171.42,344.48L172.03,343.22L172.64,343.7L173.25,344.08L173.86,344.5L174.47,344.19L175.08,344.28L175.69,343.88L176.3,343.87L176.91,344.62L177.52,344.59L178.13,344.62L178.74,345.05L179.35,344.71L179.96,344.5L180.58,344.15L181.19,343.87L181.8,344.94L182.41,344.31L183.02,344.83L183.63,343.63L184.24,344.7L184.85,344.47L185.46,345.2L186.07,345.17L186.68,344.71L187.29,345.03L187.9,344.7L188.51,345.66L189.12,344.61L189.73,345.41L190.34,344.16L190.95,345.17L191.56,344.53L192.17,345.78L192.79,344.92L193.4,345.59L194.01,345.43L194.62,345.21L195.23,345.41L195.84,345.16L196.45,344.96L197.06,345.03L197.67,345.43L198.28,346.08L198.89,345.84L199.5,345.58L200.11,346.51L200.72,345.11L201.33,340.53L201.94,335.46L202.55,329.81L203.16,324.87L203.77,323.14L204.38,321.79L205,319.2L205.61,317.23L206.22,317.22L206.83,315.67L207.44,315.32L208.05,315.92L208.66,314.99L209.27,315.76L209.88,314.68L210.49,314.93L211.1,315.96L211.71,316.06L212.32,315.86L212.93,316.3L213.54,315.71L214.15,316.37L214.76,317.15L215.37,317.02L215.98,318.59L216.59,317.74L217.21,317.76L217.82,318.56L218.43,319.11L219.04,318.78L219.65,318.4L220.26,319.54L220.87,320.48L221.48,319.52L222.09,321.44L222.7,320.57L223.31,321.32L223.92,320.8L224.53,321.88L225.14,321.04L225.75,321.76L226.36,322.97L226.97,323.32L227.58,322.75L228.19,322.21L228.8,323.03L229.42,323.22" fill="none" stroke="#9a9a9a" stroke-width="1.1" stroke-linejoin="round" stroke-dasharray="3.2 1.6"/>
<path d="M100.6,344.48L101.21,347.17L101.82,345.42L102.43,346L103.04,345.92L103.65,345.78L104.26,346.83L104.87,345.78L105.48,346.15L106.09,343.7L106.7,345.5L107.32,345.84L107.93,345.79L108.54,346.02L109.15,346.24L109.76,345.85L110.37,345.33L110.98,345.75L111.59,345.04L112.2,345.72L112.81,345.58L113.42,344.69L114.03,345.27L114.64,345.88L115.25,345.69L115.86,345.26L116.47,344.44L117.08,345.73L117.69,345.71L118.3,344.98L118.91,346.08L119.53,345.72L120.14,345.03L120.75,345.21L121.36,345.49L121.97,345.15L122.58,347.19L123.19,344.93L123.8,346.09L124.41,346.5L125.02,345.36L125.63,345.11L126.24,345.77L126.85,346.14L127.46,345.49L128.07,345.53L128.68,344.67L129.29,345.05L129.9,345.37L130.51,344.83L131.12,345.6L131.74,345.26L132.35,343.62L132.96,342.86L133.57,342.56L134.18,342.14L134.79,340.78L135.4,341.62L136.01,338.99L136.62,338.35L137.23,338.83L137.84,337.4L138.45,337.56L139.06,336.12L139.67,337.31L140.28,336.22L140.89,334.83L141.5,334.35L142.11,336.5L142.72,335.75L143.33,335.49L143.95,336.26L144.56,335.19L145.17,337.04L145.78,336.43L146.39,337.59L147,336.5L147.61,337.68L148.22,338.22L148.83,339.35L149.44,337.7L150.05,338.59L150.66,338.93L151.27,339.05L151.88,339.77L152.49,340.56L153.1,340.88L153.71,341.1L154.32,340.05L154.93,341.92L155.54,341.64L156.16,341.69L156.77,341.59L157.38,341.61L157.99,342.9L158.6,343.4L159.21,342.61L159.82,342.07L160.43,342.42L161.04,342.83L161.65,343.23L162.26,342.96L162.87,343.36L163.48,342.83L164.09,343.86L164.7,343.4L165.31,343.63L165.92,343.34L166.53,343.61L167.14,342.34L167.75,343.04L168.37,343.13L168.98,345.29L169.59,344.38L170.2,344.59L170.81,343.95L171.42,345.63L172.03,343.64L172.64,343.73L173.25,345.14L173.86,344.99L174.47,344.91L175.08,344.45L175.69,344.13L176.3,343.34L176.91,344.68L177.52,344.14L178.13,344.53L178.74,343.62L179.35,344.25L179.96,343.91L180.58,345.37L181.19,344.89L181.8,345.28L182.41,343.95L183.02,344.48L183.63,345.07L184.24,345.19L184.85,344.67L185.46,345.39L186.07,345.56L186.68,344.76L187.29,343.63L187.9,345.25L188.51,345.46L189.12,345.85L189.73,345.98L190.34,344.92L190.95,344.76L191.56,345.28L192.17,345.12L192.79,345.28L193.4,345.29L194.01,346.3L194.62,345.7L195.23,345.4L195.84,345.95L196.45,345.8L197.06,346.03L197.67,345.78L198.28,345.12L198.89,345.88L199.5,345.77L200.11,345.2L200.72,345.3L201.33,339.08L201.94,335.69L202.55,328.35L203.16,323.53L203.77,319.66L204.38,315.74L205,312.09L205.61,310.36L206.22,310L206.83,308.27L207.44,308.99L208.05,309.49L208.66,309.52L209.27,310.9L209.88,308.43L210.49,308.22L211.1,306.67L211.71,308.15L212.32,309.09L212.93,309.5L213.54,309.5L214.15,309.78L214.76,308.73L215.37,308.47L215.98,307.51L216.59,309.78L217.21,309.72L217.82,311.65L218.43,312.77L219.04,312.62L219.65,312.41L220.26,311.14L220.87,310.13L221.48,311.29L222.09,312.24L222.7,312.87L223.31,314.89L223.92,315.5L224.53,316.02L225.14,317.04L225.75,315.9L226.36,318.23L226.97,317.99L227.58,319.55L228.19,319.84L228.8,321.07L229.42,322.04L230.03,321.87" fill="none" stroke="#111" stroke-width="1.1" stroke-linejoin="round"/>
<path d="M100.6,345.37L101.21,345.09L101.82,344.02L102.43,344.61L103.04,345.95L103.65,345L104.26,345.36L104.87,344.91L105.48,345.93L106.09,344.85L106.7,344.85L107.32,344.07L107.93,344.81L108.54,344.69L109.15,345.87L109.76,343.67L110.37,346.11L110.98,344.35L111.59,345.19L112.2,345.51L112.81,345.38L113.42,345.39L114.03,344.77L114.64,345.06L115.25,344.13L115.86,346.06L116.47,344.99L117.08,345.51L117.69,344.54L118.3,346.23L118.91,345.19L119.53,344.87L120.14,345.86L120.75,344.42L121.36,344.89L121.97,344.4L122.58,344.43L123.19,345.57L123.8,345.46L124.41,345.11L125.02,344.55L125.63,344.49L126.24,345.41L126.85,345.35L127.46,345.46L128.07,345.33L128.68,345.13L129.29,344.77L129.9,342.6L130.51,343.21L131.12,342.2L131.74,340.87L132.35,340.81L132.96,339.57L133.57,338.46L134.18,337.18L134.79,337.67L135.4,335.37L136.01,335.64L136.62,334.61L137.23,333.48L137.84,332.86L138.45,331.89L139.06,332.06L139.67,332.59L140.28,332.81L140.89,334L141.5,333.13L142.11,334.71L142.72,335.41L143.33,333.89L143.95,335.59L144.56,336.61L145.17,335.26L145.78,336.95L146.39,336.56L147,338.08L147.61,338.12L148.22,339.25L148.83,339.67L149.44,339.42L150.05,339.19L150.66,338.97L151.27,338.31L151.88,340.62L152.49,339.72L153.1,340.96L153.71,340.99L154.32,342.06L154.93,342.35L155.54,342.23L156.16,342.77L156.77,342.36L157.38,343.06L157.99,342.08L158.6,342.81L159.21,342.89L159.82,342.41L160.43,342.86L161.04,343.27L161.65,343.39L162.26,343.49L162.87,342.88L163.48,343.14L164.09,343.47L164.7,343.31L165.31,344.18L165.92,343.65L166.53,344.86L167.14,343.34L167.75,344.16L168.37,344.13L168.98,343.92L169.59,344.31L170.2,344.48L170.81,343.66L171.42,344.32L172.03,344.95L172.64,344.19L173.25,345.47L173.86,343.54L174.47,344.63L175.08,344.54L175.69,343.27L176.3,343.36L176.91,344.58L177.52,344.31L178.13,344.07L178.74,343.76L179.35,344.84L179.96,344.72L180.58,344.11L181.19,344.7L181.8,344.44L182.41,344.55L183.02,345.59L183.63,345.45L184.24,346.52L184.85,345.14L185.46,344.23L186.07,345.68L186.68,344.33L187.29,344.49L187.9,345.12L188.51,345.12L189.12,345.08L189.73,345.66L190.34,345.34L190.95,345.22L191.56,344.86L192.17,344.77L192.79,345.69L193.4,344.79L194.01,345.75L194.62,345.42L195.23,345.12L195.84,345.37L196.45,345.45L197.06,345.24L197.67,345.74L198.28,345.82L198.89,345.58L199.5,344.92L200.11,345.54L200.72,339.8L201.33,333.93L201.94,328.95L202.55,320.61L203.16,312.53L203.77,308.62L204.38,304.01L205,299.39L205.61,293.23L206.22,290.98L206.83,288.73L207.44,286.44L208.05,283.41L208.66,283.06L209.27,283.56L209.88,281.68L210.49,281.32L211.1,282.34L211.71,282.67L212.32,283.95L212.93,285.15L213.54,281.31L214.15,282.39L214.76,284.84L215.37,286.77L215.98,288.19L216.59,290.85L217.21,291.09L217.82,292.57L218.43,293.82L219.04,295.52L219.65,296.83L220.26,297.25L220.87,298.58L221.48,300.21L222.09,301.5L222.7,302.96L223.31,303.01L223.92,303.3L224.53,305.91L225.14,305.01L225.75,307.7L226.36,307.36L226.97,307.64L227.58,309.3L228.19,310.03L228.8,309.67L229.42,309.91L230.03,311.34" fill="none" stroke="#111" stroke-width="1.15" stroke-linejoin="round"/>
<line x1="100.6" y1="254.6" x2="100.6" y2="352.9" stroke="#1c1c1c" stroke-width="0.8" />
<line x1="100.2" y1="352.5" x2="244" y2="352.5" stroke="#1c1c1c" stroke-width="0.8" />
<line x1="98" y1="352.5" x2="100.6" y2="352.5" stroke="#1c1c1c" stroke-width="0.7" />
<text x="97.6" y="355.5" font-size="8.3" text-anchor="end" fill="#1a1a1a" >0</text>
<line x1="98" y1="333" x2="100.6" y2="333" stroke="#1c1c1c" stroke-width="0.7" />
<text x="97.6" y="336" font-size="8.3" text-anchor="end" fill="#1a1a1a" >200</text>
<line x1="98" y1="313.5" x2="100.6" y2="313.5" stroke="#1c1c1c" stroke-width="0.7" />
<text x="97.6" y="316.5" font-size="8.3" text-anchor="end" fill="#1a1a1a" >400</text>
<line x1="98" y1="294" x2="100.6" y2="294" stroke="#1c1c1c" stroke-width="0.7" />
<text x="97.6" y="297" font-size="8.3" text-anchor="end" fill="#1a1a1a" >600</text>
<line x1="98" y1="274.5" x2="100.6" y2="274.5" stroke="#1c1c1c" stroke-width="0.7" />
<text x="97.6" y="277.5" font-size="8.3" text-anchor="end" fill="#1a1a1a" >800</text>
<line x1="98" y1="255" x2="100.6" y2="255" stroke="#1c1c1c" stroke-width="0.7" />
<text x="97.6" y="258" font-size="8.3" text-anchor="end" fill="#1a1a1a" >1000</text>
<line x1="100.6" y1="352.5" x2="100.6" y2="355" stroke="#1c1c1c" stroke-width="0.7" />
<text x="100.6" y="361.8" font-size="8.3" text-anchor="middle" fill="#1a1a1a" >0</text>
<line x1="141.3" y1="352.5" x2="141.3" y2="355" stroke="#1c1c1c" stroke-width="0.7" />
<text x="141.3" y="361.8" font-size="8.3" text-anchor="middle" fill="#1a1a1a" >100</text>
<line x1="182" y1="352.5" x2="182" y2="355" stroke="#1c1c1c" stroke-width="0.7" />
<text x="182" y="361.8" font-size="8.3" text-anchor="middle" fill="#1a1a1a" >200</text>
<line x1="222.7" y1="352.5" x2="222.7" y2="355" stroke="#1c1c1c" stroke-width="0.7" />
<text x="222.7" y="361.8" font-size="8.3" text-anchor="middle" fill="#1a1a1a" >300</text>
<line x1="120.95" y1="352.5" x2="120.95" y2="353.9" stroke="#1c1c1c" stroke-width="0.7" />
<line x1="161.65" y1="352.5" x2="161.65" y2="353.9" stroke="#1c1c1c" stroke-width="0.7" />
<line x1="202.35" y1="352.5" x2="202.35" y2="353.9" stroke="#1c1c1c" stroke-width="0.7" />
<line x1="243.05" y1="352.5" x2="243.05" y2="353.9" stroke="#1c1c1c" stroke-width="0.7" />
<text x="151.6" y="372.4" font-size="8.8" textLength="36.4" lengthAdjust="spacing" fill="#1a1a1a" >Seconds</text>
<rect x="101.8" y="261.2" width="97.2" height="3.3" fill="#fff" stroke="#1c1c1c" stroke-width="0.7"/>
<rect x="199" y="260.9" width="43" height="3.9" fill="#151515"/>
<text x="137.9" y="257" font-size="8.2" textLength="16.6" lengthAdjust="spacing" fill="#1a1a1a" >0 Ca</text>
<text x="155.1" y="253.1" font-size="4.8" fill="#1a1a1a" >2+</text>
<text x="198.3" y="257" font-size="8.2" textLength="39.1" lengthAdjust="spacing" fill="#1a1a1a" >1.8 mM Ca</text>
<text x="238.5" y="253.1" font-size="4.8" fill="#1a1a1a" >2+</text>
<text x="161.2" y="274" font-size="8.2" textLength="34" lengthAdjust="spacing" fill="#1a1a1a" >1 µM TG</text>
<line x1="122.5" y1="276.6" x2="230.5" y2="276.6" stroke="#1c1c1c" stroke-width="0.8" marker-start="url(#ah)" marker-end="url(#ah)"/>
<text x="225" y="292.6" font-size="8" textLength="14.4" lengthAdjust="spacing" fill="#1a1a1a" >Con</text>
<text x="233" y="313.4" font-size="8" textLength="14" lengthAdjust="spacing" fill="#1a1a1a" >C35</text>
<text x="233" y="323.6" font-size="8" textLength="10" lengthAdjust="spacing" fill="#1a1a1a" >C9</text>
<text x="217" y="334" font-size="8" textLength="34.4" lengthAdjust="spacing" fill="#1a1a1a" >HA-CSQ1</text>
<text transform="translate(74.6,322.32) rotate(-90)" font-size="8.8" fill="#1a1a1a" >[</text>
<text transform="translate(74.9,318) rotate(-90)" font-size="8.8" textLength="11.04" lengthAdjust="spacing" fill="#1a1a1a" >Ca</text>
<text transform="translate(67.82,306) rotate(-90)" font-size="6" fill="#1a1a1a" >2+</text>
<text transform="translate(74.6,299.04) rotate(-90)" font-size="8.8" fill="#1a1a1a" >]</text>
<text transform="translate(76.6,295.9) rotate(-90)" font-size="5.04" fill="#1a1a1a" >i</text>
<text transform="translate(74.9,294.3) rotate(-90)" font-size="8.8" textLength="20.04" lengthAdjust="spacing" fill="#1a1a1a" >(nM)</text>
<text x="259.2" y="248" font-size="16" fill="#1a1a1a" >D</text>
<rect x="312.3" y="242.6" width="19.4" height="6.2" fill="#151515" stroke="#1c1c1c" stroke-width="0.6"/>
<text x="335" y="248.4" font-size="8.3" textLength="50.4" lengthAdjust="spacing" fill="#1a1a1a" >Vector, n=12</text>
<rect x="396.9" y="242.6" width="19.2" height="6.2" fill="#c9c9c9" stroke="#1c1c1c" stroke-width="0.6"/>
<text x="419" y="248.4" font-size="8.3" textLength="64" lengthAdjust="spacing" fill="#1a1a1a" >HA-CSQ1, n=12</text>
<rect x="494.7" y="242.6" width="19" height="6.2" fill="url(#hs)" stroke="#1c1c1c" stroke-width="0.6"/>
<text x="517" y="248.4" font-size="8.3" textLength="36" lengthAdjust="spacing" fill="#1a1a1a" >C9, n=12</text>
<rect x="564.3" y="242.6" width="19.4" height="6.2" fill="url(#xh)" stroke="#1c1c1c" stroke-width="0.6"/>
<text x="586.6" y="248.4" font-size="8.3" textLength="36.4" lengthAdjust="spacing" fill="#1a1a1a" >C35, n=9</text>
<line x1="301.4" y1="260.2" x2="301.4" y2="352.4" stroke="#1c1c1c" stroke-width="0.8" />
<line x1="301" y1="352" x2="442.4" y2="352" stroke="#1c1c1c" stroke-width="0.8" />
<line x1="299" y1="352" x2="301.4" y2="352" stroke="#1c1c1c" stroke-width="0.7" />
<text x="298" y="354.8" font-size="7.7" text-anchor="end" fill="#1a1a1a" >0</text>
<line x1="299" y1="333.72" x2="301.4" y2="333.72" stroke="#1c1c1c" stroke-width="0.7" />
<text x="298" y="336.52" font-size="7.7" text-anchor="end" fill="#1a1a1a" >200</text>
<line x1="299" y1="315.44" x2="301.4" y2="315.44" stroke="#1c1c1c" stroke-width="0.7" />
<text x="298" y="318.24" font-size="7.7" text-anchor="end" fill="#1a1a1a" >400</text>
<line x1="299" y1="297.16" x2="301.4" y2="297.16" stroke="#1c1c1c" stroke-width="0.7" />
<text x="298" y="299.96" font-size="7.7" text-anchor="end" fill="#1a1a1a" >600</text>
<line x1="299" y1="278.88" x2="301.4" y2="278.88" stroke="#1c1c1c" stroke-width="0.7" />
<text x="298" y="281.68" font-size="7.7" text-anchor="end" fill="#1a1a1a" >800</text>
<line x1="299" y1="260.6" x2="301.4" y2="260.6" stroke="#1c1c1c" stroke-width="0.7" />
<text x="298" y="263.4" font-size="7.7" text-anchor="end" fill="#1a1a1a" >1000</text>
<line x1="313.6" y1="338" x2="313.6" y2="341.4" stroke="#1c1c1c" stroke-width="0.85" />
<line x1="311.78" y1="338" x2="315.42" y2="338" stroke="#1c1c1c" stroke-width="0.85" />
<rect x="311" y="341.4" width="5.2" height="10.6" fill="#151515" stroke="#1c1c1c" stroke-width="0.5"/>
<line x1="318.9" y1="337.6" x2="318.9" y2="340" stroke="#1c1c1c" stroke-width="0.85" />
<line x1="317.01" y1="337.6" x2="320.79" y2="337.6" stroke="#1c1c1c" stroke-width="0.85" />
<rect x="316.2" y="340" width="5.4" height="12" fill="#c9c9c9" stroke="#1c1c1c" stroke-width="0.5"/>
<line x1="324.3" y1="336.6" x2="324.3" y2="339.4" stroke="#1c1c1c" stroke-width="0.85" />
<line x1="322.41" y1="336.6" x2="326.19" y2="336.6" stroke="#1c1c1c" stroke-width="0.85" />
<rect x="321.6" y="339.4" width="5.4" height="12.6" fill="url(#hs)" stroke="#1c1c1c" stroke-width="0.5"/>
<line x1="329.7" y1="338.6" x2="329.7" y2="341" stroke="#1c1c1c" stroke-width="0.85" />
<line x1="327.81" y1="338.6" x2="331.59" y2="338.6" stroke="#1c1c1c" stroke-width="0.85" />
<rect x="327" y="341" width="5.4" height="11" fill="url(#xh)" stroke="#1c1c1c" stroke-width="0.9"/>
<line x1="361.8" y1="283.4" x2="361.8" y2="291.4" stroke="#1c1c1c" stroke-width="0.85" />
<line x1="359.84" y1="283.4" x2="363.76" y2="283.4" stroke="#1c1c1c" stroke-width="0.85" />
<rect x="359" y="291.4" width="5.6" height="60.6" fill="#151515" stroke="#1c1c1c" stroke-width="0.5"/>
<line x1="367.1" y1="323" x2="367.1" y2="327.4" stroke="#1c1c1c" stroke-width="0.85" />
<line x1="365.35" y1="323" x2="368.85" y2="323" stroke="#1c1c1c" stroke-width="0.85" />
<rect x="364.6" y="327.4" width="5" height="24.6" fill="#c9c9c9" stroke="#1c1c1c" stroke-width="0.5"/>
<line x1="372.3" y1="309" x2="372.3" y2="314.4" stroke="#1c1c1c" stroke-width="0.85" />
<line x1="370.41" y1="309" x2="374.19" y2="309" stroke="#1c1c1c" stroke-width="0.85" />
<rect x="369.6" y="314.4" width="5.4" height="37.6" fill="url(#hs)" stroke="#1c1c1c" stroke-width="0.5"/>
<line x1="378" y1="297.4" x2="378" y2="302" stroke="#1c1c1c" stroke-width="0.85" />
<line x1="375.9" y1="297.4" x2="380.1" y2="297.4" stroke="#1c1c1c" stroke-width="0.85" />
<rect x="375" y="302" width="6" height="50" fill="url(#xh)" stroke="#1c1c1c" stroke-width="0.9"/>
<line x1="419.2" y1="319" x2="419.2" y2="325" stroke="#1c1c1c" stroke-width="0.85" />
<line x1="417.24" y1="319" x2="421.16" y2="319" stroke="#1c1c1c" stroke-width="0.85" />
<rect x="416.4" y="325" width="5.6" height="27" fill="#151515" stroke="#1c1c1c" stroke-width="0.5"/>
<line x1="424.8" y1="311.4" x2="424.8" y2="318.4" stroke="#1c1c1c" stroke-width="0.85" />
<line x1="422.84" y1="311.4" x2="426.76" y2="311.4" stroke="#1c1c1c" stroke-width="0.85" />
<rect x="422" y="318.4" width="5.6" height="33.6" fill="#c9c9c9" stroke="#1c1c1c" stroke-width="0.5"/>
<line x1="430.3" y1="282" x2="430.3" y2="290.4" stroke="#1c1c1c" stroke-width="0.85" />
<line x1="428.41" y1="282" x2="432.19" y2="282" stroke="#1c1c1c" stroke-width="0.85" />
<rect x="427.6" y="290.4" width="5.4" height="61.6" fill="url(#xh)" stroke="#1c1c1c" stroke-width="0.9"/>
<text x="367.1" y="322.6" font-size="6.2" text-anchor="middle" fill="#1a1a1a"  stroke="#1a1a1a" stroke-width="0.15">**</text>
<text x="372.3" y="302.2" font-size="4.6" text-anchor="middle" fill="#1a1a1a" font-style="italic" font-weight="bold">##</text>
<text x="372.3" y="309" font-size="6.2" text-anchor="middle" fill="#1a1a1a"  stroke="#1a1a1a" stroke-width="0.15">**</text>
<text x="378" y="294.6" font-size="4.6" text-anchor="middle" fill="#1a1a1a" font-style="italic" font-weight="bold">##</text>
<text x="423.6" y="279" font-size="6.5" fill="#1a1a1a" stroke="#1a1a1a" stroke-width="0.25">**</text>
<text x="429.6" y="277.6" font-size="5.4" fill="#1a1a1a" font-style="italic">##</text>
<text x="304" y="360.4" font-size="8.5" textLength="35" lengthAdjust="spacing" fill="#1a1a1a" >Release</text>
<text x="392" y="361" font-size="8.5" textLength="22" lengthAdjust="spacing" fill="#1a1a1a" >Influx</text>
<line x1="359" y1="363.4" x2="439" y2="363.4" stroke="#1c1c1c" stroke-width="0.7" />
<text x="345" y="371" font-size="8.5" textLength="17" lengthAdjust="spacing" fill="#1a1a1a" >TFP</text>
<line x1="369" y1="369.6" x2="373" y2="369.6" stroke="#1c1c1c" stroke-width="0.8" />
<line x1="425.6" y1="368.4" x2="429.6" y2="368.4" stroke="#1c1c1c" stroke-width="0.8" />
<line x1="427.6" y1="366.4" x2="427.6" y2="370.4" stroke="#1c1c1c" stroke-width="0.8" />
<text transform="translate(277.5,342.6) rotate(-90)" font-size="8.6" textLength="37.6" lengthAdjust="spacing" fill="#1a1a1a" >Delta peak</text>
<text transform="translate(277.2,301) rotate(-90)" font-size="8.6" fill="#1a1a1a" >[</text>
<text transform="translate(277.5,297.4) rotate(-90)" font-size="8.6" textLength="9.2" lengthAdjust="spacing" fill="#1a1a1a" >Ca</text>
<text transform="translate(271.6,287.4) rotate(-90)" font-size="5" fill="#1a1a1a" >2+</text>
<text transform="translate(277.2,281.6) rotate(-90)" font-size="8.6" fill="#1a1a1a" >]</text>
<text transform="translate(279.2,276.4) rotate(-90)" font-size="4.2" fill="#1a1a1a" >i</text>
<text transform="translate(277.5,274.8) rotate(-90)" font-size="8.6" textLength="16.7" lengthAdjust="spacing" fill="#1a1a1a" >(nM)</text>
<line x1="489" y1="261.6" x2="489" y2="350.7" stroke="#1c1c1c" stroke-width="0.8" />
<line x1="488.6" y1="350.3" x2="630" y2="350.3" stroke="#1c1c1c" stroke-width="0.8" />
<line x1="486.6" y1="262" x2="489" y2="262" stroke="#1c1c1c" stroke-width="0.7" />
<text x="486" y="264.9" font-size="7.7" text-anchor="end" fill="#1a1a1a" >50000</text>
<line x1="486.6" y1="271" x2="489" y2="271" stroke="#1c1c1c" stroke-width="0.7" />
<text x="486" y="273.9" font-size="7.7" text-anchor="end" fill="#1a1a1a" >40000</text>
<line x1="486.6" y1="280" x2="489" y2="280" stroke="#1c1c1c" stroke-width="0.7" />
<text x="486" y="282.9" font-size="7.7" text-anchor="end" fill="#1a1a1a" >30000</text>
<line x1="486.6" y1="289" x2="489" y2="289" stroke="#1c1c1c" stroke-width="0.7" />
<text x="486" y="291.9" font-size="7.7" text-anchor="end" fill="#1a1a1a" >20000</text>
<line x1="486.6" y1="301.4" x2="489" y2="301.4" stroke="#1c1c1c" stroke-width="0.7" />
<text x="486" y="304.3" font-size="7.7" text-anchor="end" fill="#1a1a1a" >7500</text>
<line x1="486.6" y1="317.6" x2="489" y2="317.6" stroke="#1c1c1c" stroke-width="0.7" />
<text x="486" y="320.5" font-size="7.7" text-anchor="end" fill="#1a1a1a" >5000</text>
<line x1="486.6" y1="334" x2="489" y2="334" stroke="#1c1c1c" stroke-width="0.7" />
<text x="486" y="336.9" font-size="7.7" text-anchor="end" fill="#1a1a1a" >2500</text>
<line x1="486.6" y1="350.3" x2="489" y2="350.3" stroke="#1c1c1c" stroke-width="0.7" />
<text x="486" y="353.2" font-size="7.7" text-anchor="end" fill="#1a1a1a" >0</text>
<line x1="501.2" y1="301.4" x2="501.2" y2="310.6" stroke="#1c1c1c" stroke-width="0.85" />
<line x1="499.24" y1="301.4" x2="503.16" y2="301.4" stroke="#1c1c1c" stroke-width="0.85" />
<rect x="498.4" y="310.6" width="5.6" height="39.7" fill="#151515" stroke="#1c1c1c" stroke-width="0.5"/>
<line x1="506.7" y1="296.6" x2="506.7" y2="310" stroke="#1c1c1c" stroke-width="0.85" />
<line x1="504.81" y1="296.6" x2="508.59" y2="296.6" stroke="#1c1c1c" stroke-width="0.85" />
<rect x="504" y="310" width="5.4" height="40.3" fill="#c9c9c9" stroke="#1c1c1c" stroke-width="0.5"/>
<line x1="512" y1="293.8" x2="512" y2="306.4" stroke="#1c1c1c" stroke-width="0.85" />
<line x1="510.18" y1="293.8" x2="513.82" y2="293.8" stroke="#1c1c1c" stroke-width="0.85" />
<rect x="509.4" y="306.4" width="5.2" height="43.9" fill="url(#hs)" stroke="#1c1c1c" stroke-width="0.5"/>
<line x1="517.3" y1="300.6" x2="517.3" y2="314" stroke="#1c1c1c" stroke-width="0.85" />
<line x1="515.41" y1="300.6" x2="519.19" y2="300.6" stroke="#1c1c1c" stroke-width="0.85" />
<rect x="514.6" y="314" width="5.4" height="36.3" fill="url(#xh)" stroke="#1c1c1c" stroke-width="0.9"/>
<line x1="549.3" y1="333.6" x2="549.3" y2="337" stroke="#1c1c1c" stroke-width="0.85" />
<line x1="547.41" y1="333.6" x2="551.19" y2="333.6" stroke="#1c1c1c" stroke-width="0.85" />
<rect x="546.6" y="337" width="5.4" height="13.3" fill="#151515" stroke="#1c1c1c" stroke-width="0.5"/>
<line x1="554.7" y1="340" x2="554.7" y2="343" stroke="#1c1c1c" stroke-width="0.85" />
<line x1="552.81" y1="340" x2="556.59" y2="340" stroke="#1c1c1c" stroke-width="0.85" />
<rect x="552" y="343" width="5.4" height="7.3" fill="#c9c9c9" stroke="#1c1c1c" stroke-width="0.5"/>
<line x1="560" y1="337.6" x2="560" y2="340" stroke="#1c1c1c" stroke-width="0.85" />
<line x1="558.18" y1="337.6" x2="561.82" y2="337.6" stroke="#1c1c1c" stroke-width="0.85" />
<rect x="557.4" y="340" width="5.2" height="10.3" fill="url(#hs)" stroke="#1c1c1c" stroke-width="0.5"/>
<line x1="565.3" y1="334.4" x2="565.3" y2="337" stroke="#1c1c1c" stroke-width="0.85" />
<line x1="563.41" y1="334.4" x2="567.19" y2="334.4" stroke="#1c1c1c" stroke-width="0.85" />
<rect x="562.6" y="337" width="5.4" height="13.3" fill="url(#xh)" stroke="#1c1c1c" stroke-width="0.9"/>
<line x1="606.8" y1="266.4" x2="606.8" y2="272.6" stroke="#1c1c1c" stroke-width="0.85" />
<line x1="604.84" y1="266.4" x2="608.76" y2="266.4" stroke="#1c1c1c" stroke-width="0.85" />
<rect x="604" y="272.6" width="5.6" height="77.7" fill="#151515" stroke="#1c1c1c" stroke-width="0.5"/>
<line x1="612.1" y1="288" x2="612.1" y2="291" stroke="#1c1c1c" stroke-width="0.85" />
<line x1="610.35" y1="288" x2="613.85" y2="288" stroke="#1c1c1c" stroke-width="0.85" />
<rect x="609.6" y="291" width="5" height="59.3" fill="#c9c9c9" stroke="#1c1c1c" stroke-width="0.5"/>
<line x1="617.3" y1="279.4" x2="617.3" y2="285" stroke="#1c1c1c" stroke-width="0.85" />
<line x1="615.41" y1="279.4" x2="619.19" y2="279.4" stroke="#1c1c1c" stroke-width="0.85" />
<rect x="614.6" y="285" width="5.4" height="65.3" fill="url(#hs)" stroke="#1c1c1c" stroke-width="0.5"/>
<line x1="622.8" y1="275.6" x2="622.8" y2="278.4" stroke="#1c1c1c" stroke-width="0.85" />
<line x1="620.84" y1="275.6" x2="624.76" y2="275.6" stroke="#1c1c1c" stroke-width="0.85" />
<rect x="620" y="278.4" width="5.6" height="71.9" fill="url(#xh)" stroke="#1c1c1c" stroke-width="0.9"/>
<rect x="603" y="292" width="24" height="1.5" fill="#fff"/>
<rect x="486" y="291.2" width="6" height="1.6" fill="#fff"/>
<line x1="486" y1="291.2" x2="492" y2="290.6" stroke="#1c1c1c" stroke-width="0.7" />
<line x1="486" y1="293" x2="492" y2="292.4" stroke="#1c1c1c" stroke-width="0.7" />
<text x="554.7" y="341.5" font-size="5.5" text-anchor="middle" fill="#1a1a1a"  stroke="#1a1a1a" stroke-width="0.15">**</text>
<text x="560" y="333.6" font-size="4.2" text-anchor="middle" fill="#1a1a1a" font-style="italic" font-weight="bold">##</text>
<text x="560" y="338.4" font-size="5.5" text-anchor="middle" fill="#1a1a1a"  stroke="#1a1a1a" stroke-width="0.15">**</text>
<text x="566" y="331.6" font-size="4.2" text-anchor="middle" fill="#1a1a1a" font-style="italic" font-weight="bold">##</text>
<text x="612.1" y="287.6" font-size="5.5" text-anchor="middle" fill="#1a1a1a"  stroke="#1a1a1a" stroke-width="0.15">**</text>
<text x="617.3" y="274.4" font-size="4.2" text-anchor="middle" fill="#1a1a1a" font-style="italic" font-weight="bold">##</text>
<text x="617.3" y="279.8" font-size="5.5" text-anchor="middle" fill="#1a1a1a"  stroke="#1a1a1a" stroke-width="0.15">**</text>
<text x="623.5" y="272" font-size="4.2" text-anchor="middle" fill="#1a1a1a" font-style="italic" font-weight="bold">##</text>
<text x="495" y="359" font-size="8.5" textLength="34" lengthAdjust="spacing" fill="#1a1a1a" >Release</text>
<text x="547" y="359" font-size="8.5" textLength="17" lengthAdjust="spacing" fill="#1a1a1a" >10 s</text>
<text x="604" y="359" font-size="8.5" textLength="17" lengthAdjust="spacing" fill="#1a1a1a" >70 s</text>
<line x1="545" y1="360.9" x2="625" y2="360.9" stroke="#1c1c1c" stroke-width="0.7" />
<text x="554" y="369" font-size="8.5" textLength="56.6" lengthAdjust="spacing" fill="#1a1a1a" >Rate of influx</text>
<text transform="translate(458.1,338.4) rotate(-90)" font-size="8" textLength="16.1" lengthAdjust="spacing" fill="#1a1a1a" >AUC</text>
<text transform="translate(457.8,319.9) rotate(-90)" font-size="8" fill="#1a1a1a" >[</text>
<text transform="translate(458.1,316.3) rotate(-90)" font-size="8" textLength="9.2" lengthAdjust="spacing" fill="#1a1a1a" >Ca</text>
<text transform="translate(452.2,306.3) rotate(-90)" font-size="5" fill="#1a1a1a" >2+</text>
<text transform="translate(457.8,300.5) rotate(-90)" font-size="8" fill="#1a1a1a" >]</text>
<text transform="translate(459.8,297.5) rotate(-90)" font-size="4.2" fill="#1a1a1a" >i</text>
<text transform="translate(458.1,295.9) rotate(-90)" font-size="8" textLength="16.7" lengthAdjust="spacing" fill="#1a1a1a" >(nM)</text>
<text x="75.6" y="396.8" font-size="16" fill="#1a1a1a" >E</text>
<path d="M118.6,421.99L118.97,421.56L119.33,421.61L119.7,422.16L120.07,422.1L120.44,422.17L120.8,421.82L121.17,422.02L121.54,421.76L121.9,422.59L122.27,421.5L122.64,422.03L123,421.78L123.37,422.04L123.74,422.12L124.11,421.85L124.47,421.74L124.84,422.06L125.21,422.05L125.57,421.78L125.94,422.28L126.31,422.48L126.68,421.87L127.04,422.21L127.41,422.61L127.78,422.26L128.14,422.15L128.51,422.38L128.88,422.48L129.24,421.99L129.61,421.71L129.98,422.07L130.35,422.24L130.71,421.88L131.08,421.79L131.45,422.24L131.81,422.17L132.18,422.27L132.55,422.97L132.91,423.48L133.28,423.42L133.65,423.75L134.02,423.75L134.38,424.79L134.75,424.88L135.12,425.24L135.48,425.84L135.85,425.57L136.22,425.77L136.59,426.5L136.95,426.14L137.32,426.65L137.69,427.03L138.05,427.41L138.42,427.53L138.79,428.55L139.15,428.2L139.52,428.46L139.89,429.46L140.26,429L140.62,429.4L140.99,429.27L141.36,429.86L141.72,429.91L142.09,429.98L142.46,430.55L142.83,430.25L143.19,430.65L143.56,430.63L143.93,431.11L144.29,430.76L144.66,431.07L145.03,431.47L145.39,431.37L145.76,431.31L146.13,431.29L146.5,432.51L146.86,431.87L147.23,432.15L147.6,432.47L147.96,432.9L148.33,432.31L148.7,433.26L149.07,432.82L149.43,432.72L149.8,433.79L150.17,433.52L150.53,433.99L150.9,433.64L151.27,433.37L151.63,433.36L152,434.72L152.37,434.48L152.74,434.21L153.1,434.08L153.47,434.59L153.84,435.11L154.2,434.92L154.57,435.16L154.94,435.36L155.31,435.66L155.67,435.44L156.04,435.6L156.41,435.86L156.77,436.03L157.14,436.5L157.51,436.37L157.87,435.95L158.24,436.52L158.61,437.03L158.98,436.26L159.34,436.63L159.71,436.23L160.08,436.99L160.44,437.25L160.81,437.67L161.18,436.88L161.54,436.57L161.91,437.75L162.28,437.79L162.65,437.49L163.01,438.03L163.38,437.94L163.75,438.06L164.11,437.97L164.48,437.77L164.85,438.2L165.22,438L165.58,438.51L165.95,438.35L166.32,439.22L166.68,439.09L167.05,438.45L167.42,438.97L167.78,438.67L168.15,438.76L168.52,438.59L168.89,438.83L169.25,438.84L169.62,439.28L169.99,439.54L170.35,439.62L170.72,439.62L171.09,439.89L171.46,439.78L171.82,439.7L172.19,439.66L172.56,439.92L172.92,440.5L173.29,439.98L173.66,439.95L174.02,439.74L174.39,439.97L174.76,440.43L175.13,440.52L175.49,439.71L175.86,440.18L176.23,439.9L176.59,439.87L176.96,440.88L177.33,440.56L177.7,440.6L178.06,440.64L178.43,440.71L178.8,440.88L179.16,440.95L179.53,441.55L179.9,441.19L180.26,441.44L180.63,441.22L181,441.48L181.37,441.2L181.73,441.2L182.1,441.43L182.47,441.49L182.83,441.63L183.2,441.87L183.57,441.85L183.93,442.03L184.3,441.81L184.67,442L185.04,441.89L185.4,442.57L185.77,441.92L186.14,442.52L186.5,442.58L186.87,442.47L187.24,442.66L187.61,442.45L187.97,442.79L188.34,443.01L188.71,443L189.07,442.37L189.44,442.84L189.81,443.29L190.17,442.97L190.54,443.53L190.91,442.51L191.28,443.63L191.64,443.04L192.01,443.07L192.38,443.76L192.74,443.25L193.11,443.07L193.48,443.28L193.85,443.39L194.21,443.21L194.58,443.5L194.95,443.48L195.31,443.67L195.68,443.46L196.05,443.99L196.41,443.46L196.78,443.9L197.15,444.11L197.52,443.66L197.88,443.26L198.25,443.51L198.62,444L198.98,443.63L199.35,444.02L199.72,443.93L200.09,443.88L200.45,444.66L200.82,443.88L201.19,444.28L201.55,444.19L201.92,444.45L202.29,444.48L202.65,444.31L203.02,443.76L203.39,443.5L203.76,444.06L204.12,443.71L204.49,444.16L204.86,444.7L205.22,444.05L205.59,443.96L205.96,444.25L206.32,444.03L206.69,443.96L207.06,444.43L207.43,444.63L207.79,444.24L208.16,444.25L208.53,444.3L208.89,443.88L209.26,443.66L209.63,444.35L210,444L210.36,443.94L210.73,444.02L211.1,443.92L211.46,444.39L211.83,444.04L212.2,443.64L212.56,444.04L212.93,444.5L213.3,444.12L213.67,443.92L214.03,444.21L214.4,444.52L214.77,443.86L215.13,444.76L215.5,444.21L215.87,444.39L216.24,444.77L216.6,444.01L216.97,444.3L217.34,444.8L217.7,444.24L218.07,444.58L218.44,445.06L218.8,444.68L219.17,444.38L219.54,444.27L219.91,444.42L220.27,444.47L220.64,444.34L221.01,444.56L221.37,444.12L221.74,444.46L222.11,444.41L222.48,444.34L222.84,444.85L223.21,444.75L223.58,444.03L223.94,444.42L224.31,444.62L224.68,444.42L225.04,444.69L225.41,444.45L225.78,444.76L226.15,444.46L226.51,445.05L226.88,444.13L227.25,444.72L227.61,445.07L227.98,444.64L228.35,444.69L228.71,444.53L229.08,444.95L229.45,444.46L229.82,443.43L230.18,445L230.55,444.49L230.92,444.71L231.28,444.55L231.65,445.2L232.02,445L232.39,444.49L232.75,444.66L233.12,444.13L233.49,444.89L233.85,444.62L234.22,443.76L234.59,444.95L234.95,445L235.32,444.74L235.69,444.76L236.06,444.49L236.42,444.73L236.79,445.03L237.16,444.74L237.52,443.98L237.89,444.44L238.26,445.76L238.63,444.93L238.99,445.19L239.36,444.74L239.73,445.02L240.09,444.37L240.46,444.71L240.83,444.76L241.19,485.43L241.56,485.52L241.93,485.41L242.3,485.12L242.66,485.38L243.03,485.67L243.4,485.17L243.76,485.52L244.13,485.62L244.5,485.86L244.87,485.79L245.23,485.83L245.6,486.52L245.97,485.31L246.33,485.46L246.7,485.72L247.07,485.32L247.43,485.52L247.8,485.54L248.17,486.46L248.54,485.74L248.9,485.5L249.27,485.16L249.64,485.09L250,485.22L250.37,486.05L250.74,486.38L251.11,485.5L251.47,485.67L251.84,485.37L252.21,485.72L252.57,485.61L252.94,486.16L253.31,485.54" fill="none" stroke="#111" stroke-width="1.2" stroke-linejoin="round"/>
<path d="M118.6,422.01L118.89,420.66L119.19,421.05L119.48,421.07L119.77,419.93L120.07,423.54L120.36,422.8L120.66,423.69L120.95,422.14L121.24,420.72L121.54,422.03L121.83,421.37L122.12,424.45L122.42,421.81L122.71,423.16L123,419.73L123.3,420.86L123.59,420.78L123.89,422.07L124.18,421.22L124.47,421.16L124.77,422.44L125.06,422.64L125.35,422.15L125.65,422.77L125.94,422.76L126.23,422.36L126.53,422.93L126.82,421.02L127.12,424.04L127.41,420.95L127.7,422.8L128,422.7L128.29,423.73L128.58,422.18L128.88,422.32L129.17,421.75L129.46,422.68L129.76,421.88L130.05,419.67L130.35,421.48L130.64,422.73L130.93,420.79L131.23,422.34L131.52,421.73L131.81,422.13L132.11,423.91L132.4,426.39L132.69,424.86L132.99,424.15L133.28,425.81L133.58,425.24L133.87,425.05L134.16,427.52L134.46,425.78L134.75,425.81L135.04,427.05L135.34,427.47L135.63,428.1L135.92,427.16L136.22,430.37L136.51,431.19L136.81,431.03L137.1,433.59L137.39,435.04L137.69,434.8L137.98,433.81L138.27,434.28L138.57,437.44L138.86,438.44L139.15,436.96L139.45,437.28L139.74,437.55L140.04,437.02L140.33,436.66L140.62,438.27L140.92,438.1L141.21,440.6L141.5,441.01L141.8,439.5L142.09,439.23L142.38,439.43L142.68,439.87L142.97,439.89L143.27,440.11L143.56,443.63L143.85,442.57L144.15,441.28L144.44,441.33L144.73,444.25L145.03,441.03L145.32,443.31L145.61,443.25L145.91,442.81L146.2,442.4L146.5,445.4L146.79,442.49L147.08,443.86L147.38,445.14L147.67,444.7L147.96,447.33L148.26,445.56L148.55,444.69L148.84,446.02L149.14,445.73L149.43,445.69L149.73,445.64L150.02,444.59L150.31,446.13L150.61,446.64L150.9,445.82L151.19,444.05L151.49,447.36L151.78,446.47L152.07,449.35L152.37,445.81L152.66,446.89L152.96,446.23L153.25,448.22L153.54,449.68L153.84,447.41L154.13,447.78L154.42,450.05L154.72,451.02L155.01,448.75L155.3,449.73L155.6,446.35L155.89,450.67L156.19,450.74L156.48,450.38L156.77,452.54L157.07,451.72L157.36,448.64L157.65,451.07L157.95,451.84L158.24,452.84L158.54,450.61L158.83,450.66L159.12,451.3L159.42,452.26L159.71,451.5L160,451.52L160.3,452.99L160.59,451.43L160.88,455.04L161.18,454.09L161.47,452.93L161.77,452.79L162.06,454.24L162.35,452.43L162.65,451.6L162.94,452.47L163.23,452.85L163.53,452.17L163.82,452.81L164.11,454.88L164.41,453.77L164.7,451.95L165,455.14L165.29,453.69L165.58,454.36L165.88,455.09L166.17,455.32L166.46,453.98L166.76,453.79L167.05,453.88L167.34,456.2L167.64,454.8L167.93,454.06L168.23,453.37L168.52,453.8L168.81,453.67L169.11,453.4L169.4,453.82L169.69,455.99L169.99,454.95L170.28,456.01L170.57,458.21L170.87,457.38L171.16,452.62L171.46,456.8L171.75,458.3L172.04,456.25L172.34,453.62L172.63,455.69L172.92,455.17L173.22,456.1L173.51,455.93L173.8,454.26L174.1,454.93L174.39,456.12L174.69,454.93L174.98,454.76L175.27,456.47L175.57,455.91L175.86,455.99L176.15,457.23L176.45,454.96L176.74,456.71L177.03,457.35L177.33,458.76L177.62,458.29L177.92,454.78L178.21,458.25L178.5,456.3L178.8,457.38L179.09,456.31L179.38,456.25L179.68,458.08L179.97,457.51L180.26,457.07L180.56,457.11L180.85,457.35L181.15,457.77L181.44,456.63L181.73,455.8L182.03,456.85L182.32,458.55L182.61,457.15L182.91,457.63L183.2,457.17L183.49,455.45L183.79,458.14L184.08,457.93L184.38,459.11L184.67,458.39L184.96,458.8L185.26,456.08L185.55,457.78L185.84,458.96L186.14,455.8L186.43,460.02L186.72,457.27L187.02,457.12L187.31,457.73L187.61,458.85L187.9,458.73L188.19,459.05L188.49,457.65L188.78,461.69L189.07,459.41L189.37,458.61L189.66,459.59L189.95,461.22L190.25,459.25L190.54,459.95L190.84,458.01L191.13,457.29L191.42,459.03L191.72,461.64L192.01,459.47L192.3,460.44L192.6,458.43L192.89,457.19L193.18,458.99L193.48,456.84L193.77,457.55L194.07,458.64L194.36,460.68L194.65,459.36L194.95,461.38L195.24,458.24L195.53,459.46L195.83,457.89L196.12,459.32L196.41,462.21L196.71,458.94L197,458.62L197.3,457.72L197.59,461.14L197.88,461.13L198.18,459.91L198.47,461.39L198.76,461.85L199.06,461.54L199.35,456.88L199.64,461.06L199.94,461.61L200.23,460.95L200.53,460.43L200.82,458.83L201.11,459.32L201.41,459.58L201.7,460.58L201.99,460.48L202.29,461.55L202.58,462.71L202.87,458.23L203.17,461.47L203.46,459.64L203.76,461.39L204.05,461.15L204.34,461.28L204.64,462.9L204.93,461.29L205.22,460.75L205.52,460.23L205.81,460.7L206.1,460.08L206.4,461.06L206.69,461.49L206.99,464.05L207.28,462.27L207.57,459.64L207.87,461.52L208.16,460.71L208.45,462.04L208.75,462.68L209.04,459.24L209.33,461.45L209.63,460.04L209.92,461.32L210.22,462.42L210.51,464.96L210.8,462.01L211.1,464.18L211.39,465.06L211.68,460.67L211.98,461.37L212.27,461.52L212.56,462.32L212.86,462.47L213.15,461.92L213.45,462.3L213.74,462.45L214.03,461.63L214.33,465.76L214.62,461.51L214.91,463.5L215.21,461.63L215.5,461.25L215.79,463.88L216.09,461.82L216.38,461.87L216.68,463.82L216.97,463.64L217.26,462.85L217.56,465.88L217.85,463.63L218.14,462.85L218.44,463.69L218.73,465.19L219.02,463.66L219.32,461.24L219.61,461.51L219.91,463.37L220.2,464.27L220.49,463.28L220.79,463.25L221.08,464.15L221.37,463.73L221.67,462.51L221.96,462.13L222.25,466.46L222.55,462.1L222.84,463.18L223.14,461.9L223.43,463.4L223.72,462.82L224.02,461.3L224.31,467.21L224.6,461.38L224.9,463.18L225.19,465.76L225.48,466.85L225.78,463.05L226.07,464.77L226.37,462.18L226.66,463.19L226.95,463.65L227.25,462.21L227.54,463.25L227.83,462.55L228.13,462.45L228.42,463.11L228.71,462.52L229.01,462.53L229.3,465.31L229.6,463.91L229.89,463.73L230.18,464.07L230.48,465.64L230.77,464.34L231.06,463.2L231.36,463.4L231.65,461.71L231.95,464.46L232.24,464.25L232.53,464.45L232.83,464.14L233.12,464.53L233.41,466.18L233.71,463.37L234,462.57L234.29,462.43L234.59,465.28L234.88,464.16L235.18,461.58L235.47,464.12L235.76,463.57L236.06,464.24L236.35,462.8L236.64,462.88L236.94,461.18L237.23,463.57L237.52,463.68L237.82,465.85L238.11,464.87L238.41,465.29L238.7,464.86L238.99,466.18L239.29,463L239.58,465.96L239.87,464.32L240.17,466.34L240.46,464.35L240.75,462.74L241.05,479.29L241.34,485.03L241.64,485.59L241.93,485.16L242.22,484.99L242.52,486.36L242.81,485.78L243.1,486.32L243.4,486.63L243.69,487.15L243.98,484.36L244.28,486.54L244.57,484.75L244.87,484.9L245.16,486.9L245.45,484.28L245.75,486.73L246.04,484.83L246.33,483.78L246.63,486.56L246.92,486.84L247.21,486.86L247.51,482.72L247.8,486.14L248.1,487.28L248.39,484.62L248.68,485.9L248.98,485.72L249.27,486.95L249.56,488.53L249.86,486.62L250.15,487.02L250.44,487.76L250.74,487.08L251.03,486.91L251.33,484.66L251.62,484.79L251.91,485.03L252.21,486.38L252.5,487.31L252.79,485.31L253.09,485.11" fill="none" stroke="#999" stroke-width="1.2" stroke-linejoin="round"/>
<path d="M118.6,420.48L118.89,424.56L119.19,421.2L119.48,421.94L119.77,420.9L120.07,421.68L120.36,420.48L120.66,421.97L120.95,422.43L121.24,421.52L121.54,421.64L121.83,422.3L122.12,422.21L122.42,421.4L122.71,421.41L123,422.41L123.3,422.31L123.59,423.5L123.89,420.6L124.18,422.19L124.47,420.89L124.77,421.65L125.06,420.38L125.35,420.72L125.65,421.74L125.94,420.77L126.23,422.79L126.53,420.95L126.82,423.23L127.12,421.71L127.41,421.11L127.7,421.81L128,422.31L128.29,422.67L128.58,422.29L128.88,421.13L129.17,421.26L129.46,422.22L129.76,423.04L130.05,421.44L130.35,423.21L130.64,422.44L130.93,422.63L131.23,421.59L131.52,422.39L131.81,422.72L132.11,423.48L132.4,424.92L132.69,424.55L132.99,424.44L133.28,426.35L133.58,426.57L133.87,428.04L134.16,427.95L134.46,429.15L134.75,429.89L135.04,431.23L135.34,431.04L135.63,433.55L135.92,434.34L136.22,435.4L136.51,435.27L136.81,437.18L137.1,438.1L137.39,437.85L137.69,438.37L137.98,439.72L138.27,443.27L138.57,442.62L138.86,443.47L139.15,444.27L139.45,444.23L139.74,442.93L140.04,445.16L140.33,445.91L140.62,445.08L140.92,445.96L141.21,446.27L141.5,447.27L141.8,447.02L142.09,446.97L142.38,449.22L142.68,449.26L142.97,447.3L143.27,447.77L143.56,449.15L143.85,449.83L144.15,449.38L144.44,450.46L144.73,449.97L145.03,448.54L145.32,450.02L145.61,449.36L145.91,450.72L146.2,450.43L146.5,449.77L146.79,452.22L147.08,451.58L147.38,451.6L147.67,451.41L147.96,450.52L148.26,451.41L148.55,453.4L148.84,452.54L149.14,453.22L149.43,453.4L149.73,451.12L150.02,453.84L150.31,452.92L150.61,453.87L150.9,452.71L151.19,453.29L151.49,453.62L151.78,453.94L152.07,453.07L152.37,454.93L152.66,454.9L152.96,455.35L153.25,453.45L153.54,454.93L153.84,455.68L154.13,455.29L154.42,452.98L154.72,455.27L155.01,454.59L155.3,455.03L155.6,455.54L155.89,456.22L156.19,456.04L156.48,456.17L156.77,457.82L157.07,453.94L157.36,455.43L157.65,456.21L157.95,456.58L158.24,457.17L158.54,455.83L158.83,456.88L159.12,456.43L159.42,458.08L159.71,456.72L160,455.47L160.3,457.47L160.59,456.67L160.88,457.41L161.18,456.62L161.47,456.75L161.77,457.68L162.06,458.3L162.35,457.69L162.65,458L162.94,458.64L163.23,457.84L163.53,457.96L163.82,459.16L164.11,458.6L164.41,456.18L164.7,458.02L165,458.71L165.29,456.8L165.58,459.36L165.88,461.13L166.17,460.75L166.46,460.52L166.76,459.13L167.05,458.62L167.34,461.33L167.64,458.68L167.93,460.72L168.23,459.58L168.52,459.49L168.81,459.61L169.11,460.05L169.4,460L169.69,461.17L169.99,460.08L170.28,459.58L170.57,459.71L170.87,458.39L171.16,459.74L171.46,460.12L171.75,459.42L172.04,460.69L172.34,462.04L172.63,462.91L172.92,460.07L173.22,460.74L173.51,460.58L173.8,461.64L174.1,461.16L174.39,459.96L174.69,461.32L174.98,462.6L175.27,462.11L175.57,460.67L175.86,462.81L176.15,464.12L176.45,463.96L176.74,463.24L177.03,461.53L177.33,462.19L177.62,462.97L177.92,463.48L178.21,462.58L178.5,462.68L178.8,463.09L179.09,462.89L179.38,463.39L179.68,461.33L179.97,464.86L180.26,462.86L180.56,463.87L180.85,462.51L181.15,463.36L181.44,462.92L181.73,462.85L182.03,463.19L182.32,462.6L182.61,464.65L182.91,462.77L183.2,463.8L183.49,463.37L183.79,462.46L184.08,462.88L184.38,462.23L184.67,465.82L184.96,464.81L185.26,463.27L185.55,465.08L185.84,464.35L186.14,462.84L186.43,463.6L186.72,465.19L187.02,464.07L187.31,463.97L187.61,464.52L187.9,464.71L188.19,464.57L188.49,466L188.78,464.7L189.07,465.67L189.37,464.6L189.66,464.62L189.95,465.78L190.25,464.58L190.54,464.85L190.84,465.24L191.13,464.65L191.42,465.57L191.72,465.59L192.01,465.34L192.3,465.51L192.6,464.56L192.89,467.53L193.18,465.86L193.48,467.33L193.77,466.14L194.07,465.55L194.36,465.81L194.65,465.05L194.95,465.64L195.24,468.23L195.53,466.92L195.83,464.74L196.12,464.77L196.41,466.03L196.71,467.44L197,464.38L197.3,467.97L197.59,466L197.88,466.34L198.18,466.13L198.47,467.34L198.76,466.74L199.06,465.54L199.35,466.88L199.64,467.65L199.94,466.55L200.23,466.49L200.53,466.71L200.82,467.29L201.11,466.21L201.41,466.8L201.7,467.7L201.99,466.57L202.29,466.8L202.58,466.69L202.87,468.25L203.17,467.5L203.46,466.51L203.76,466.14L204.05,466.65L204.34,466.83L204.64,466.38L204.93,466.19L205.22,465.55L205.52,466.66L205.81,467.54L206.1,466.69L206.4,468.74L206.69,467.08L206.99,467.52L207.28,467.19L207.57,466.78L207.87,467.17L208.16,468.44L208.45,467.55L208.75,467.94L209.04,467.31L209.33,467.02L209.63,468.14L209.92,466.75L210.22,466.29L210.51,467.62L210.8,466.81L211.1,468.67L211.39,467.91L211.68,466.67L211.98,468.96L212.27,467.94L212.56,468.28L212.86,466.6L213.15,466.62L213.45,468.11L213.74,467.5L214.03,469.8L214.33,466.93L214.62,467.37L214.91,466.57L215.21,469.68L215.5,467.42L215.79,468.02L216.09,469.92L216.38,468.34L216.68,467.84L216.97,467.12L217.26,467.64L217.56,468.25L217.85,467.46L218.14,467.93L218.44,468.4L218.73,468.72L219.02,467.75L219.32,467.76L219.61,466.36L219.91,468.28L220.2,466.58L220.49,467.63L220.79,466.95L221.08,468.69L221.37,468.67L221.67,468.2L221.96,467.21L222.25,467.81L222.55,467.34L222.84,467.7L223.14,467.12L223.43,467.81L223.72,468.42L224.02,467.56L224.31,467.92L224.6,466.54L224.9,468.13L225.19,467.91L225.48,468.26L225.78,467.05L226.07,467.29L226.37,467.48L226.66,469.06L226.95,469.29L227.25,467.81L227.54,467.43L227.83,466.81L228.13,469.54L228.42,468.19L228.71,469.46L229.01,468.86L229.3,468.25L229.6,467.27L229.89,468.51L230.18,468.68L230.48,468.35L230.77,467.05L231.06,466.09L231.36,469.39L231.65,468.34L231.95,468.48L232.24,467.16L232.53,467.78L232.83,466.87L233.12,469.01L233.41,468.16L233.71,468.57L234,469.11L234.29,468.34L234.59,469.21L234.88,466.43L235.18,467.91L235.47,469.12L235.76,468.79L236.06,466.86L236.35,468.72L236.64,467.77L236.94,467.88L237.23,467.47L237.52,467.88L237.82,468.6L238.11,468.94L238.41,469.95L238.7,468.54L238.99,468.41L239.29,468.86L239.58,468.7L239.87,469.63L240.17,466.84L240.46,469.1L240.75,469.57L241.05,480.08L241.34,485.63L241.64,484.89L241.93,487.54L242.22,485.1L242.52,486.06L242.81,485.7L243.1,484.72L243.4,484.94L243.69,486.15L243.98,485.67L244.28,484.04L244.57,484.47L244.87,484.89L245.16,485.61L245.45,484.82L245.75,485.3L246.04,486.09L246.33,486.47L246.63,485.21L246.92,485.33L247.21,484.65L247.51,486.06L247.8,484.49L248.1,485.96L248.39,484.62L248.68,485.21L248.98,486.15L249.27,486.46L249.56,485.77L249.86,485.89L250.15,484.89L250.44,486.25L250.74,486.9L251.03,485.69L251.33,484.08L251.62,484.31L251.91,486.19L252.21,485.9L252.5,485.41L252.79,486.23L253.09,485.88" fill="none" stroke="#111" stroke-width="1.2" stroke-linejoin="round"/>
<path d="M118.6,421.78L118.97,422.31L119.33,422.5L119.7,422.94L120.07,422.11L120.44,421.6L120.8,421.99L121.17,421.84L121.54,421.67L121.9,422.28L122.27,421.15L122.64,422.28L123,421.88L123.37,421.12L123.74,422.04L124.11,421.96L124.47,422.16L124.84,421.89L125.21,422.68L125.57,422.21L125.94,421.46L126.31,421.93L126.68,422.08L127.04,421.88L127.41,421.87L127.78,421.95L128.14,421.81L128.51,422.53L128.88,421.81L129.24,422.22L129.61,421.75L129.98,422.01L130.35,422.32L130.71,422.02L131.08,422.4L131.45,422.14L131.81,423.09L132.18,423.57L132.55,425.02L132.91,424.95L133.28,426.52L133.65,427.09L134.02,428.48L134.38,430.41L134.75,431.3L135.12,432.9L135.48,433.87L135.85,434.73L136.22,436.18L136.59,437.3L136.95,439.29L137.32,440.12L137.69,441.33L138.05,442.33L138.42,444.06L138.79,444.8L139.15,445.88L139.52,447.44L139.89,448.1L140.26,448.32L140.62,449.48L140.99,450.12L141.36,450.04L141.72,450.82L142.09,451.56L142.46,451.99L142.83,452.69L143.19,453.24L143.56,453.71L143.93,453.92L144.29,454.08L144.66,455.1L145.03,455.41L145.39,455.87L145.76,456.6L146.13,456.51L146.5,456.68L146.86,457.59L147.23,457.4L147.6,458.18L147.96,457.95L148.33,458.24L148.7,459.05L149.07,459.86L149.43,459.6L149.8,460.2L150.17,460.44L150.53,460.35L150.9,460.07L151.27,460.77L151.63,461.04L152,461.78L152.37,461.6L152.74,462.06L153.1,461.65L153.47,462.19L153.84,462.22L154.2,462.4L154.57,462.64L154.94,462.45L155.31,462.78L155.67,463.2L156.04,463.21L156.41,463.25L156.77,463.14L157.14,463.69L157.51,463.42L157.87,464.22L158.24,464.24L158.61,464.78L158.98,464.18L159.34,464.91L159.71,465.04L160.08,464.57L160.44,465.13L160.81,465.33L161.18,464.91L161.54,465.39L161.91,465.16L162.28,465.7L162.65,465.46L163.01,465.46L163.38,465.9L163.75,465.46L164.11,466.28L164.48,466.33L164.85,466.35L165.22,466.16L165.58,466.68L165.95,466.83L166.32,466.72L166.68,466.5L167.05,467.13L167.42,467.51L167.78,467.24L168.15,467.1L168.52,467.57L168.89,467.45L169.25,468.19L169.62,467.67L169.99,467.74L170.35,467.67L170.72,467.86L171.09,467.8L171.46,468.45L171.82,468.01L172.19,468.84L172.56,468.58L172.92,468.12L173.29,468.29L173.66,469.24L174.02,468.54L174.39,468.95L174.76,469.14L175.13,468.9L175.49,469L175.86,468.68L176.23,469.66L176.59,469.41L176.96,469.4L177.33,470.02L177.7,469.12L178.06,469.01L178.43,469.85L178.8,469.6L179.16,469.88L179.53,469.77L179.9,470.15L180.26,469.73L180.63,470.44L181,469.7L181.37,470.09L181.73,469.49L182.1,470.86L182.47,470.43L182.83,470.87L183.2,470.57L183.57,470.45L183.93,470.94L184.3,471.17L184.67,471.32L185.04,470.75L185.4,470.47L185.77,470.56L186.14,470.99L186.5,471.36L186.87,471.22L187.24,471.65L187.61,471.72L187.97,470.93L188.34,471.42L188.71,471.28L189.07,471.52L189.44,471.06L189.81,471.08L190.17,471.84L190.54,471.76L190.91,471.91L191.28,471.32L191.64,471.4L192.01,471.94L192.38,471.16L192.74,471.94L193.11,472.39L193.48,472.7L193.85,472.15L194.21,472.05L194.58,472.39L194.95,472.14L195.31,471.92L195.68,472.37L196.05,472.14L196.41,471.92L196.78,472.35L197.15,472.75L197.52,472.47L197.88,472.49L198.25,472.03L198.62,472.91L198.98,473.32L199.35,472.78L199.72,472.82L200.09,473.11L200.45,472.85L200.82,472.98L201.19,472.75L201.55,473.46L201.92,473.47L202.29,473.31L202.65,473.51L203.02,473L203.39,473.27L203.76,473.52L204.12,473.07L204.49,473.45L204.86,473.35L205.22,473.46L205.59,473.82L205.96,473.87L206.32,473.87L206.69,474.27L207.06,474.09L207.43,473.75L207.79,473.98L208.16,474.43L208.53,473.42L208.89,474.55L209.26,474.07L209.63,474.09L210,473.96L210.36,474.69L210.73,474.45L211.1,474.57L211.46,474.19L211.83,474.47L212.2,474.51L212.56,474.51L212.93,474.1L213.3,474.55L213.67,474.53L214.03,475.15L214.4,474.67L214.77,475.33L215.13,474.67L215.5,474.96L215.87,475.33L216.24,475.45L216.6,475.15L216.97,475.11L217.34,475.36L217.7,475.32L218.07,475.34L218.44,475.44L218.8,475.35L219.17,475.23L219.54,474.92L219.91,475.15L220.27,475.56L220.64,474.87L221.01,475.03L221.37,475.5L221.74,475.11L222.11,475.62L222.48,475.7L222.84,475.71L223.21,474.97L223.58,475.45L223.94,475.41L224.31,475.5L224.68,475.66L225.04,475.38L225.41,475.33L225.78,474.93L226.15,475.83L226.51,475.08L226.88,475.37L227.25,476.14L227.61,475.29L227.98,475.1L228.35,475.27L228.71,475.56L229.08,475.6L229.45,476.3L229.82,475.58L230.18,475.64L230.55,476.01L230.92,475.67L231.28,475.96L231.65,475.05L232.02,476.19L232.39,476.11L232.75,476.54L233.12,476.01L233.49,475.88L233.85,475.94L234.22,476.19L234.59,475.74L234.95,475.98L235.32,475.72L235.69,476.17L236.06,476.75L236.42,476.28L236.79,476.6L237.16,476.07L237.52,476.58L237.89,476.53L238.26,476.52L238.63,477.06L238.99,476.77L239.36,476.43L239.73,476.97L240.09,476.92L240.46,476.89L240.83,477.24L241.19,485.57L241.56,485.35L241.93,485.63L242.3,485.51L242.66,485.59L243.03,485.89L243.4,485.98L243.76,484.95L244.13,485.15L244.5,485.64L244.87,485.3L245.23,485.26L245.6,485.32L245.97,485.75L246.33,486.09L246.7,486.04L247.07,485.72L247.43,485.22L247.8,485.16L248.17,485.73L248.54,485.77L248.9,485.28L249.27,485.01L249.64,485.96L250,485.52L250.37,485.62L250.74,485.77L251.11,485.77L251.47,485.78L251.84,485.67L252.21,486.16L252.57,485.67L252.94,485.42L253.31,485.43" fill="none" stroke="#c8c8c8" stroke-width="1.3" stroke-linejoin="round"/>
<path d="M118.6,422.37L118.97,422.24L119.33,421.9L119.7,422.13L120.07,421.87L120.44,421.79L120.8,422.37L121.17,421.74L121.54,422.15L121.9,421.46L122.27,421.81L122.64,422.14L123,421.95L123.37,421.94L123.74,421.92L124.11,421.64L124.47,421.86L124.84,421.57L125.21,421.84L125.57,422.05L125.94,422.39L126.31,422.4L126.68,421.95L127.04,421.82L127.41,421.63L127.78,422.16L128.14,421.98L128.51,422.21L128.88,422.11L129.24,422.58L129.61,421.81L129.98,422.18L130.35,422.02L130.71,421.89L131.08,421.98L131.45,422.7L131.81,422.45L132.18,423.26L132.55,423.99L132.91,424.96L133.28,426.04L133.65,427.06L134.02,427.84L134.38,428.98L134.75,430.47L135.12,431.08L135.48,432.69L135.85,433.63L136.22,434.78L136.59,436.43L136.95,437.06L137.32,438.37L137.69,439.96L138.05,440.59L138.42,441.6L138.79,442.69L139.15,443.69L139.52,445.27L139.89,445.85L140.26,446.72L140.62,447.33L140.99,448.07L141.36,448.54L141.72,449.36L142.09,450.47L142.46,450.73L142.83,451.22L143.19,452.22L143.56,453.34L143.93,453.75L144.29,454.25L144.66,455.23L145.03,455.44L145.39,456.31L145.76,456.34L146.13,456.91L146.5,457.63L146.86,458.44L147.23,458.55L147.6,459.26L147.96,459.74L148.33,459.73L148.7,460.64L149.07,461.21L149.43,461.05L149.8,461.18L150.17,461.59L150.53,462.15L150.9,462.16L151.27,463.12L151.63,462.81L152,463.15L152.37,464.09L152.74,464.2L153.1,464.94L153.47,465.17L153.84,465.05L154.2,465.77L154.57,465.69L154.94,465.89L155.31,466.23L155.67,466.27L156.04,466.26L156.41,466.95L156.77,466.96L157.14,467.06L157.51,467.78L157.87,468.04L158.24,468.69L158.61,468.16L158.98,468.19L159.34,468.52L159.71,468.27L160.08,468.59L160.44,468.93L160.81,469.31L161.18,469.68L161.54,469.58L161.91,469.63L162.28,469.93L162.65,470.14L163.01,470.3L163.38,470.17L163.75,470.93L164.11,470.71L164.48,470.74L164.85,470.72L165.22,470.85L165.58,471.22L165.95,471.44L166.32,471.71L166.68,471.24L167.05,471.51L167.42,471.72L167.78,472.08L168.15,472.3L168.52,471.83L168.89,472.24L169.25,472.23L169.62,472L169.99,472.96L170.35,472.87L170.72,472.69L171.09,472.72L171.46,473.25L171.82,473.11L172.19,473.34L172.56,473.43L172.92,473.28L173.29,473.43L173.66,473.27L174.02,473.51L174.39,473.37L174.76,474.06L175.13,473.83L175.49,474.39L175.86,474.54L176.23,474.56L176.59,474.11L176.96,474.33L177.33,474.88L177.7,474.21L178.06,474.38L178.43,474.76L178.8,474.86L179.16,474.88L179.53,475.27L179.9,474.44L180.26,475.24L180.63,475.25L181,475.36L181.37,475.53L181.73,475.66L182.1,475.42L182.47,475.9L182.83,475.92L183.2,475.94L183.57,475.59L183.93,476.13L184.3,476.2L184.67,475.93L185.04,476.37L185.4,476.23L185.77,475.99L186.14,476.18L186.5,476.34L186.87,476.02L187.24,476.58L187.61,476.7L187.97,477.05L188.34,476.66L188.71,476.57L189.07,476.96L189.44,476.37L189.81,476.65L190.17,476.73L190.54,477.34L190.91,477.01L191.28,477.05L191.64,477.72L192.01,477.26L192.38,477.37L192.74,477.81L193.11,477.3L193.48,476.95L193.85,477.34L194.21,477.8L194.58,477.71L194.95,477.4L195.31,477.96L195.68,477.71L196.05,477.84L196.41,477.85L196.78,477.53L197.15,478.39L197.52,477.75L197.88,478.03L198.25,478.18L198.62,478.63L198.98,478.17L199.35,478.41L199.72,479.11L200.09,478.75L200.45,478.75L200.82,478.75L201.19,478.7L201.55,478.8L201.92,478.24L202.29,478.41L202.65,478.75L203.02,478.42L203.39,478.27L203.76,478.74L204.12,479.25L204.49,478.86L204.86,478.63L205.22,479.3L205.59,479.09L205.96,478.89L206.32,478.87L206.69,478.99L207.06,479.16L207.43,479.33L207.79,479.49L208.16,479.12L208.53,479.18L208.89,479.59L209.26,479.68L209.63,479.22L210,479.33L210.36,479.82L210.73,480.09L211.1,479.67L211.46,479.53L211.83,479.53L212.2,479.61L212.56,480.25L212.93,479.88L213.3,480.03L213.67,480.16L214.03,479.33L214.4,480.04L214.77,480.01L215.13,480.19L215.5,479.97L215.87,479.88L216.24,480.29L216.6,480.26L216.97,480.4L217.34,480.58L217.7,480.39L218.07,480.29L218.44,480.4L218.8,480.49L219.17,480.93L219.54,480.38L219.91,480.45L220.27,480.12L220.64,480.69L221.01,480.9L221.37,481.06L221.74,480.74L222.11,480.61L222.48,480.54L222.84,481.02L223.21,480.78L223.58,480.38L223.94,480.64L224.31,480.75L224.68,480.77L225.04,481.09L225.41,481.06L225.78,480.84L226.15,480.4L226.51,480.43L226.88,480.78L227.25,480.59L227.61,480.65L227.98,480.48L228.35,480.97L228.71,480.73L229.08,480.57L229.45,481.15L229.82,480.86L230.18,480.8L230.55,480.77L230.92,480.76L231.28,480.77L231.65,480.68L232.02,480.6L232.39,480.89L232.75,480.45L233.12,481.16L233.49,481.12L233.85,481.02L234.22,481.33L234.59,481.55L234.95,481.54L235.32,480.95L235.69,481.46L236.06,481.68L236.42,480.9L236.79,481.33L237.16,481.43L237.52,481.78L237.89,481.52L238.26,481.78L238.63,481.65L238.99,481.79L239.36,481.91L239.73,481.87L240.09,482.23L240.46,482.19L240.83,482.37L241.19,485.39L241.56,485.33L241.93,485.32L242.3,486.03L242.66,485.11L243.03,485.62L243.4,485.61L243.76,485.6L244.13,485.62L244.5,485.29L244.87,485.59L245.23,485.55L245.6,485.39L245.97,485.3L246.33,485.91L246.7,485.96L247.07,486.15L247.43,486.15L247.8,485.59L248.17,485.64L248.54,485.68L248.9,485.59L249.27,485.6L249.64,485.37L250,485.24L250.37,485.88L250.74,485.3L251.11,485.41L251.47,485.88L251.84,485.63L252.21,485.79L252.57,486.11L252.94,485.67L253.31,486.09" fill="none" stroke="#111" stroke-width="1.2" stroke-linejoin="round"/>
<path d="M118.6,421.22L118.84,418.71L119.09,425.89L119.33,418.33L119.58,422.1L119.82,423.74L120.07,423.75L120.31,424.36L120.56,422.49L120.8,420.19L121.05,420.73L121.29,420.61L121.54,425.69L121.78,425.42L122.03,418.62L122.27,419.89L122.52,417.25L122.76,419.37L123,424.23L123.25,419.2L123.49,420.63L123.74,421.53L123.98,423.78L124.23,421.99L124.47,422.32L124.72,420.06L124.96,421.73L125.21,418.55L125.45,423.69L125.7,420.97L125.94,420.91L126.19,423.88L126.43,424.57L126.68,419.79L126.92,420.87L127.16,422.35L127.41,421.14L127.65,423.47L127.9,421.48L128.14,423.32L128.39,421.59L128.63,419.85L128.88,422.74L129.12,420.15L129.37,424.25L129.61,422.63L129.86,424.97L130.1,422.22L130.35,421.83L130.59,422.43L130.83,422.58L131.08,419.08L131.32,418.9" fill="none" stroke="#999" stroke-width="0.9" stroke-linejoin="round"/>
<path d="M118.6,424.68L118.84,424.31L119.09,424.5L119.33,423.2L119.58,419.22L119.82,425.07L120.07,420.19L120.31,419.58L120.56,422.68L120.8,423.35L121.05,421.09L121.29,419.67L121.54,417.86L121.78,420.29L122.03,418.94L122.27,422.86L122.52,423.68L122.76,425.3L123,424.22L123.25,422.7L123.49,421.63L123.74,424.52L123.98,420.43L124.23,422.2L124.47,423.23L124.72,423.47L124.96,418.12L125.21,421.68L125.45,423.72L125.7,423.83L125.94,418.47L126.19,423.11L126.43,419.72L126.68,419.27L126.92,426.46L127.16,419.41L127.41,422.4L127.65,424.08L127.9,423.04L128.14,420.92L128.39,421.28L128.63,421.18L128.88,423.39L129.12,419.54L129.37,419.12L129.61,418.48L129.86,420.08L130.1,418.36L130.35,417.98L130.59,420.65L130.83,420.31L131.08,420.88L131.32,420.94" fill="none" stroke="#222" stroke-width="0.9" stroke-linejoin="round"/>
<line x1="118.6" y1="405.6" x2="118.6" y2="499" stroke="#1c1c1c" stroke-width="0.8" />
<line x1="118.2" y1="498.6" x2="265.8" y2="498.6" stroke="#1c1c1c" stroke-width="0.8" />
<line x1="116" y1="486" x2="118.6" y2="486" stroke="#1c1c1c" stroke-width="0.7" />
<text x="114.6" y="489" font-size="8.3" text-anchor="end" fill="#1a1a1a" >0</text>
<line x1="116" y1="470" x2="118.6" y2="470" stroke="#1c1c1c" stroke-width="0.7" />
<text x="114.6" y="473" font-size="8.3" text-anchor="end" fill="#1a1a1a" >25</text>
<line x1="116" y1="454" x2="118.6" y2="454" stroke="#1c1c1c" stroke-width="0.7" />
<text x="114.6" y="457" font-size="8.3" text-anchor="end" fill="#1a1a1a" >50</text>
<line x1="116" y1="438" x2="118.6" y2="438" stroke="#1c1c1c" stroke-width="0.7" />
<text x="114.6" y="441" font-size="8.3" text-anchor="end" fill="#1a1a1a" >75</text>
<line x1="116" y1="422" x2="118.6" y2="422" stroke="#1c1c1c" stroke-width="0.7" />
<text x="114.6" y="425" font-size="8.3" text-anchor="end" fill="#1a1a1a" >100</text>
<line x1="116" y1="406" x2="118.6" y2="406" stroke="#1c1c1c" stroke-width="0.7" />
<text x="114.6" y="409" font-size="8.3" text-anchor="end" fill="#1a1a1a" >125</text>
<line x1="117.2" y1="494" x2="118.6" y2="494" stroke="#1c1c1c" stroke-width="0.7" />
<line x1="117.2" y1="478" x2="118.6" y2="478" stroke="#1c1c1c" stroke-width="0.7" />
<line x1="117.2" y1="462" x2="118.6" y2="462" stroke="#1c1c1c" stroke-width="0.7" />
<line x1="117.2" y1="446" x2="118.6" y2="446" stroke="#1c1c1c" stroke-width="0.7" />
<line x1="117.2" y1="430" x2="118.6" y2="430" stroke="#1c1c1c" stroke-width="0.7" />
<line x1="117.2" y1="414" x2="118.6" y2="414" stroke="#1c1c1c" stroke-width="0.7" />
<text x="100.8" y="416" font-size="8.3" textLength="14" lengthAdjust="spacing" fill="#1a1a1a" >(%)</text>
<line x1="118.6" y1="498.6" x2="118.6" y2="501.2" stroke="#1c1c1c" stroke-width="0.7" />
<text x="118.6" y="508" font-size="8.3" text-anchor="middle" fill="#1a1a1a" >200</text>
<line x1="167.54" y1="498.6" x2="167.54" y2="501.2" stroke="#1c1c1c" stroke-width="0.7" />
<text x="167.54" y="508" font-size="8.3" text-anchor="middle" fill="#1a1a1a" >400</text>
<line x1="216.48" y1="498.6" x2="216.48" y2="501.2" stroke="#1c1c1c" stroke-width="0.7" />
<text x="216.48" y="508" font-size="8.3" text-anchor="middle" fill="#1a1a1a" >600</text>
<line x1="265.42" y1="498.6" x2="265.42" y2="501.2" stroke="#1c1c1c" stroke-width="0.7" />
<text x="265.42" y="508" font-size="8.3" text-anchor="middle" fill="#1a1a1a" >800</text>
<line x1="143.07" y1="498.6" x2="143.07" y2="500" stroke="#1c1c1c" stroke-width="0.7" />
<line x1="192.01" y1="498.6" x2="192.01" y2="500" stroke="#1c1c1c" stroke-width="0.7" />
<line x1="240.95" y1="498.6" x2="240.95" y2="500" stroke="#1c1c1c" stroke-width="0.7" />
<text x="172.4" y="521" font-size="9" textLength="39.6" lengthAdjust="spacing" fill="#1a1a1a" >Seconds</text>
<rect x="130.6" y="403.4" width="109" height="2.5" rx="1.2" fill="#fff" stroke="#1c1c1c" stroke-width="0.7"/>
<rect x="239.3" y="403" width="12" height="3.4" fill="#151515"/>
<text x="160.2" y="402.2" font-size="8.2" textLength="42.3" lengthAdjust="spacing" fill="#1a1a1a" >0.2 mM Mn</text>
<text x="203.1" y="398.7" font-size="4.8" fill="#1a1a1a" >2+</text>
<text x="221.5" y="402.2" font-size="8.2" textLength="39.7" lengthAdjust="spacing" fill="#1a1a1a" >0.5% triton</text>
<line x1="118.6" y1="423.8" x2="251.2" y2="423.8" stroke="#1c1c1c" stroke-width="0.8" marker-end="url(#ah)"/>
<text x="171.6" y="422" font-size="8.2" textLength="32.4" lengthAdjust="spacing" fill="#1a1a1a" >1 µM TG</text>
<text x="204" y="439" font-size="8" textLength="53" lengthAdjust="spacing" fill="#1a1a1a" >Basal (no TG)</text>
<text x="245" y="464.4" font-size="8" textLength="36" lengthAdjust="spacing" fill="#1a1a1a" >HA-CSQ1</text>
<text x="245" y="473" font-size="8" textLength="10" lengthAdjust="spacing" fill="#1a1a1a" >C9</text>
<text x="245" y="481.2" font-size="8" textLength="14.4" lengthAdjust="spacing" fill="#1a1a1a" >C35</text>
<text x="185" y="492" font-size="8" textLength="55" lengthAdjust="spacing" fill="#1a1a1a" >Vector with TG</text>
<text transform="translate(94.2,495.8) rotate(-90)" font-size="8" fill="#1a1a1a" letter-spacing="-0.1">Fluorescence ( <tspan font-style="italic">F</tspan><tspan font-size="6.8" dy="0.8">380</tspan><tspan dy="-0.8">)</tspan></text>
<text x="316.6" y="397.6" font-size="16" fill="#1a1a1a" >F</text>
<line x1="364.4" y1="403.6" x2="364.4" y2="500.9" stroke="#1c1c1c" stroke-width="0.8" />
<line x1="364" y1="500.5" x2="503" y2="500.5" stroke="#1c1c1c" stroke-width="0.8" />
<line x1="362" y1="500.5" x2="364.4" y2="500.5" stroke="#1c1c1c" stroke-width="0.7" />
<text x="361.8" y="503.2" font-size="7.4" text-anchor="end" fill="#1a1a1a" >0</text>
<line x1="362" y1="484.4" x2="364.4" y2="484.4" stroke="#1c1c1c" stroke-width="0.7" />
<text x="361.8" y="487.1" font-size="7.4" text-anchor="end" fill="#1a1a1a" >20</text>
<line x1="362" y1="468.3" x2="364.4" y2="468.3" stroke="#1c1c1c" stroke-width="0.7" />
<text x="361.8" y="471" font-size="7.4" text-anchor="end" fill="#1a1a1a" >40</text>
<line x1="362" y1="452.2" x2="364.4" y2="452.2" stroke="#1c1c1c" stroke-width="0.7" />
<text x="361.8" y="454.9" font-size="7.4" text-anchor="end" fill="#1a1a1a" >60</text>
<line x1="362" y1="436.1" x2="364.4" y2="436.1" stroke="#1c1c1c" stroke-width="0.7" />
<text x="361.8" y="438.8" font-size="7.4" text-anchor="end" fill="#1a1a1a" >80</text>
<line x1="362" y1="420" x2="364.4" y2="420" stroke="#1c1c1c" stroke-width="0.7" />
<text x="361.8" y="422.7" font-size="7.4" text-anchor="end" fill="#1a1a1a" >100</text>
<line x1="362" y1="403.9" x2="364.4" y2="403.9" stroke="#1c1c1c" stroke-width="0.7" />
<text x="361.8" y="406.6" font-size="7.4" text-anchor="end" fill="#1a1a1a" >120</text>
<line x1="387.7" y1="416" x2="387.7" y2="420" stroke="#1c1c1c" stroke-width="0.85" />
<line x1="385.39" y1="416" x2="390.01" y2="416" stroke="#1c1c1c" stroke-width="0.85" />
<rect x="384.4" y="420" width="6.6" height="80.5" fill="#151515" stroke="#1c1c1c" stroke-width="0.5"/>
<line x1="394" y1="459.4" x2="394" y2="465.4" stroke="#1c1c1c" stroke-width="0.85" />
<line x1="391.9" y1="459.4" x2="396.1" y2="459.4" stroke="#1c1c1c" stroke-width="0.85" />
<rect x="391" y="465.4" width="6" height="35.1" fill="#c9c9c9" stroke="#1c1c1c" stroke-width="0.5"/>
<line x1="400.2" y1="441" x2="400.2" y2="446" stroke="#1c1c1c" stroke-width="0.85" />
<line x1="397.96" y1="441" x2="402.44" y2="441" stroke="#1c1c1c" stroke-width="0.85" />
<rect x="397" y="446" width="6.4" height="54.5" fill="url(#hs)" stroke="#1c1c1c" stroke-width="0.5"/>
<line x1="406.7" y1="417" x2="406.7" y2="425.6" stroke="#1c1c1c" stroke-width="0.85" />
<line x1="404.39" y1="417" x2="409.01" y2="417" stroke="#1c1c1c" stroke-width="0.85" />
<rect x="403.4" y="425.6" width="6.6" height="74.9" fill="url(#xh)" stroke="#1c1c1c" stroke-width="0.9"/>
<line x1="466.2" y1="461" x2="466.2" y2="468" stroke="#1c1c1c" stroke-width="0.85" />
<line x1="463.96" y1="461" x2="468.44" y2="461" stroke="#1c1c1c" stroke-width="0.85" />
<rect x="463" y="468" width="6.4" height="32.5" fill="#151515" stroke="#1c1c1c" stroke-width="0.5"/>
<line x1="472.4" y1="459.4" x2="472.4" y2="460.6" stroke="#1c1c1c" stroke-width="0.85" />
<line x1="470.3" y1="459.4" x2="474.5" y2="459.4" stroke="#1c1c1c" stroke-width="0.85" />
<rect x="469.4" y="460.6" width="6" height="39.9" fill="#c9c9c9" stroke="#1c1c1c" stroke-width="0.5"/>
<line x1="479" y1="421" x2="479" y2="426.4" stroke="#1c1c1c" stroke-width="0.85" />
<line x1="476.48" y1="421" x2="481.52" y2="421" stroke="#1c1c1c" stroke-width="0.85" />
<rect x="475.4" y="426.4" width="7.2" height="74.1" fill="url(#xh)" stroke="#1c1c1c" stroke-width="0.9"/>
<text x="394" y="459.2" font-size="7.5" text-anchor="middle" fill="#1a1a1a"  stroke="#1a1a1a" stroke-width="0.15">**</text>
<text x="400.4" y="433.4" font-size="6" text-anchor="middle" fill="#1a1a1a" font-style="italic">##</text>
<text x="400.2" y="440.8" font-size="7.5" text-anchor="middle" fill="#1a1a1a"  stroke="#1a1a1a" stroke-width="0.15">**</text>
<text x="407" y="415.4" font-size="6.8" text-anchor="middle" fill="#1a1a1a" font-style="italic">##</text>
<text x="476.4" y="421.2" font-size="8" fill="#1a1a1a" stroke="#1a1a1a" stroke-width="0.2">**</text>
<text x="483.2" y="419" font-size="6.6" fill="#1a1a1a" font-style="italic">##</text>
<rect x="504.7" y="414.6" width="19" height="6.3" fill="#151515" stroke="#1c1c1c" stroke-width="0.6"/>
<text x="526.6" y="420.5" font-size="8.75" textLength="50" lengthAdjust="spacing" fill="#1a1a1a" >Vector, n=10</text>
<rect x="504.7" y="424.6" width="19" height="6.3" fill="#c9c9c9" stroke="#1c1c1c" stroke-width="0.6"/>
<text x="526.6" y="430.5" font-size="8.75" textLength="63.2" lengthAdjust="spacing" fill="#1a1a1a" >HA-CSQ1, n=10</text>
<rect x="504.7" y="434.6" width="19" height="6.3" fill="url(#hs)" stroke="#1c1c1c" stroke-width="0.6"/>
<text x="526.6" y="440.5" font-size="8.75" textLength="35.6" lengthAdjust="spacing" fill="#1a1a1a" >C9, n=10</text>
<rect x="504.7" y="444.6" width="19" height="6.3" fill="url(#xh)" stroke="#1c1c1c" stroke-width="0.6"/>
<text x="526.6" y="450.5" font-size="8.75" textLength="40.6" lengthAdjust="spacing" fill="#1a1a1a" >C35, n=10</text>
<text x="363.6" y="511" font-size="8.5" textLength="16" lengthAdjust="spacing" fill="#1a1a1a" >TFP</text>
<line x1="396" y1="509" x2="400" y2="509" stroke="#1c1c1c" stroke-width="0.8" />
<line x1="470" y1="508" x2="474.2" y2="508" stroke="#1c1c1c" stroke-width="0.8" />
<line x1="472.1" y1="505.9" x2="472.1" y2="510.1" stroke="#1c1c1c" stroke-width="0.8" />
<text transform="translate(343,444.5) rotate(-90)" text-anchor="middle" font-size="9.3" textLength="107" lengthAdjust="spacing" fill="#1a1a1a">Quench percent of control</text>
</svg>
</body></html>
